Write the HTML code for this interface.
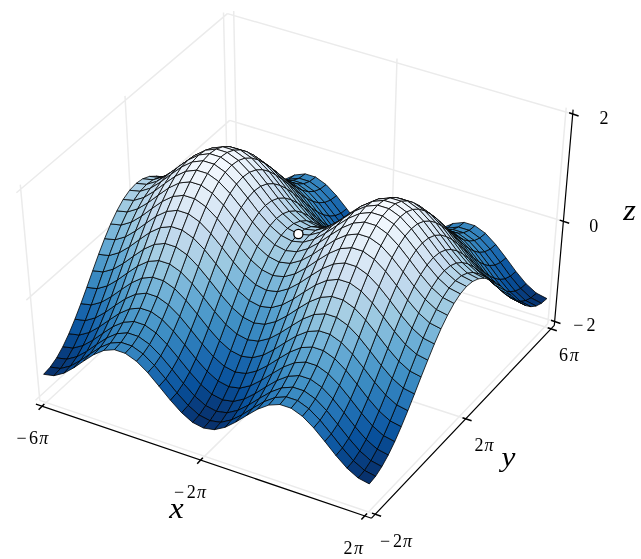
<!DOCTYPE html><html><head><meta charset="utf-8"><title>surface</title><style>html,body{margin:0;padding:0;background:#fff}svg{display:block}</style></head><body><svg width="641" height="559" viewBox="0 0 641 559">
<rect width="641" height="559" fill="#fff"/>
<path d="M42.1 406.2 L238.0 226.2 M238.0 226.2 L233.7 11.0 M200.6 460.1 L390.4 274.0 M390.4 274.0 L397.0 58.5 M364.8 515.9 L547.9 323.4 M547.9 323.4 L566.2 107.6 M39.8 400.4 L375.2 514.2 M39.8 400.4 L20.3 184.6 M136.8 311.5 L465.7 418.8 M136.8 311.5 L125.0 95.9 M228.4 227.6 L551.0 328.8 M228.4 227.6 L223.5 12.4 M35.5 400.3 L231.9 220.5 M231.9 220.5 L554.6 321.5 M26.3 300.1 L229.7 120.4 M229.7 120.4 L563.3 221.3 M16.4 192.7 L227.4 13.6 M227.4 13.6 L572.7 114.0" fill="none" stroke="#ebebeb" stroke-width="1.5"/>
<g stroke="#000" stroke-width="0.8" stroke-linejoin="round">
<polygon points="227.8,205.6 237.9,206.6 243.9,202.2 233.8,201.2" fill="#08326e"/>
<polygon points="237.9,206.6 247.9,203.7 253.9,199.3 243.9,202.2" fill="#083979"/>
<polygon points="221.7,207.9 231.8,208.9 237.9,206.6 227.8,205.6" fill="#083674"/>
<polygon points="231.8,208.9 241.9,206.0 247.9,203.7 237.9,206.6" fill="#083d7f"/>
<polygon points="215.5,208.2 225.6,209.2 231.8,208.9 221.7,207.9" fill="#083d7f"/>
<polygon points="247.9,203.7 258.0,198.0 264.0,193.6 253.9,199.3" fill="#08478d"/>
<polygon points="225.6,209.2 235.7,206.4 241.9,206.0 231.8,208.9" fill="#08458a"/>
<polygon points="241.9,206.0 251.9,200.3 258.0,198.0 247.9,203.7" fill="#084b93"/>
<polygon points="209.2,206.8 219.4,207.8 225.6,209.2 215.5,208.2" fill="#084990"/>
<polygon points="258.0,198.0 268.2,190.8 274.2,186.4 264.0,193.6" fill="#0e58a2"/>
<polygon points="235.7,206.4 245.8,200.6 251.9,200.3 241.9,206.0" fill="#09529d"/>
<polygon points="219.4,207.8 229.5,204.9 235.7,206.4 225.6,209.2" fill="#08509b"/>
<polygon points="251.9,200.3 262.1,193.1 268.2,190.8 258.0,198.0" fill="#105ba4"/>
<polygon points="202.8,203.9 213.0,204.9 219.4,207.8 209.2,206.8" fill="#0c56a0"/>
<polygon points="268.2,190.8 278.4,184.0 284.4,179.6 274.2,186.4" fill="#1b69af"/>
<polygon points="371.6,248.3 382.0,253.7 387.8,249.1 377.4,243.7" fill="#08326e"/>
<polygon points="361.3,239.0 371.6,248.3 377.4,243.7 367.2,234.4" fill="#083979"/>
<polygon points="229.5,204.9 239.6,199.1 245.8,200.6 235.7,206.4" fill="#125da6"/>
<polygon points="245.8,200.6 256.0,193.4 262.1,193.1 251.9,200.3" fill="#1663aa"/>
<polygon points="382.0,253.7 392.6,254.8 398.3,250.2 387.8,249.1" fill="#08326e"/>
<polygon points="213.0,204.9 223.2,202.0 229.5,204.9 219.4,207.8" fill="#125da6"/>
<polygon points="351.1,226.8 361.3,239.0 367.2,234.4 356.9,222.3" fill="#08478d"/>
<polygon points="262.1,193.1 272.3,186.3 278.4,184.0 268.2,190.8" fill="#1e6db2"/>
<polygon points="365.9,250.7 376.3,256.1 382.0,253.7 371.6,248.3" fill="#083674"/>
<polygon points="355.5,241.4 365.9,250.7 371.6,248.3 361.3,239.0" fill="#083d7f"/>
<polygon points="278.4,184.0 288.7,179.4 294.7,175.0 284.4,179.6" fill="#2979b9"/>
<polygon points="392.6,254.8 403.3,252.0 409.0,247.4 398.3,250.2" fill="#083979"/>
<polygon points="340.8,213.2 351.1,226.8 356.9,222.3 346.7,208.7" fill="#0e58a2"/>
<polygon points="196.4,199.8 206.6,200.9 213.0,204.9 202.8,203.9" fill="#1865ac"/>
<polygon points="376.3,256.1 386.8,257.3 392.6,254.8 382.0,253.7" fill="#083674"/>
<polygon points="345.2,229.2 355.5,241.4 361.3,239.0 351.1,226.8" fill="#084b93"/>
<polygon points="239.6,199.1 249.8,191.8 256.0,193.4 245.8,200.6" fill="#1e6db2"/>
<polygon points="223.2,202.0 233.3,196.1 239.6,199.1 229.5,204.9" fill="#1c6ab0"/>
<polygon points="256.0,193.4 266.2,186.5 272.3,186.3 262.1,193.1" fill="#2474b7"/>
<polygon points="272.3,186.3 282.7,181.7 288.7,179.4 278.4,184.0" fill="#2d7dbb"/>
<polygon points="330.4,200.0 340.8,213.2 346.7,208.7 336.4,195.6" fill="#1b69af"/>
<polygon points="360.1,251.2 370.5,256.6 376.3,256.1 365.9,250.7" fill="#083d7f"/>
<polygon points="206.6,200.9 216.7,197.9 223.2,202.0 213.0,204.9" fill="#1d6cb1"/>
<polygon points="349.7,241.9 360.1,251.2 365.9,250.7 355.5,241.4" fill="#08458a"/>
<polygon points="386.8,257.3 397.5,254.5 403.3,252.0 392.6,254.8" fill="#083d7f"/>
<polygon points="334.9,215.6 345.2,229.2 351.1,226.8 340.8,213.2" fill="#105ba4"/>
<polygon points="288.7,179.4 299.1,178.3 305.2,173.9 294.7,175.0" fill="#3383be"/>
<polygon points="370.5,256.6 381.1,257.8 386.8,257.3 376.3,256.1" fill="#083d7f"/>
<polygon points="403.3,252.0 414.1,246.3 419.9,241.7 409.0,247.4" fill="#08478d"/>
<polygon points="339.4,229.6 349.7,241.9 355.5,241.4 345.2,229.2" fill="#09529d"/>
<polygon points="320.0,189.0 330.4,200.0 336.4,195.6 326.0,184.5" fill="#2979b9"/>
<polygon points="299.1,178.3 309.6,181.5 315.6,177.1 305.2,173.9" fill="#3787c0"/>
<polygon points="324.5,202.4 334.9,215.6 340.8,213.2 330.4,200.0" fill="#1e6db2"/>
<polygon points="309.6,181.5 320.0,189.0 326.0,184.5 315.6,177.1" fill="#3383be"/>
<polygon points="189.8,195.1 200.1,196.1 206.6,200.9 196.4,199.8" fill="#2676b8"/>
<polygon points="282.7,181.7 293.1,180.5 299.1,178.3 288.7,179.4" fill="#3787c0"/>
<polygon points="249.8,191.8 260.0,185.0 266.2,186.5 256.0,193.4" fill="#2f7fbc"/>
<polygon points="233.3,196.1 243.5,188.8 249.8,191.8 239.6,199.1" fill="#2b7bba"/>
<polygon points="266.2,186.5 276.6,181.9 282.7,181.7 272.3,186.3" fill="#3484bf"/>
<polygon points="381.1,257.8 391.9,255.0 397.5,254.5 386.8,257.3" fill="#08458a"/>
<polygon points="329.0,215.9 339.4,229.6 345.2,229.2 334.9,215.6" fill="#1663aa"/>
<polygon points="216.7,197.9 226.9,192.0 233.3,196.1 223.2,202.0" fill="#2a7ab9"/>
<polygon points="397.5,254.5 408.4,248.8 414.1,246.3 403.3,252.0" fill="#084b93"/>
<polygon points="354.3,249.9 364.8,255.4 370.5,256.6 360.1,251.2" fill="#084990"/>
<polygon points="343.9,240.5 354.3,249.9 360.1,251.2 349.7,241.9" fill="#08509b"/>
<polygon points="314.1,191.3 324.5,202.4 330.4,200.0 320.0,189.0" fill="#2d7dbb"/>
<polygon points="293.1,180.5 303.6,183.8 309.6,181.5 299.1,178.3" fill="#3b8bc2"/>
<polygon points="364.8,255.4 375.4,256.5 381.1,257.8 370.5,256.6" fill="#084990"/>
<polygon points="303.6,183.8 314.1,191.3 320.0,189.0 309.6,181.5" fill="#3787c0"/>
<polygon points="200.1,196.1 210.3,193.1 216.7,197.9 206.6,200.9" fill="#2e7ebc"/>
<polygon points="414.1,246.3 425.2,239.3 430.9,234.7 419.9,241.7" fill="#0e58a2"/>
<polygon points="333.5,228.2 343.9,240.5 349.7,241.9 339.4,229.6" fill="#125da6"/>
<polygon points="318.5,202.7 329.0,215.9 334.9,215.6 324.5,202.4" fill="#2474b7"/>
<polygon points="276.6,181.9 287.0,180.8 293.1,180.5 282.7,181.7" fill="#3e8ec4"/>
<polygon points="391.9,255.0 402.8,249.3 408.4,248.8 397.5,254.5" fill="#09529d"/>
<polygon points="260.0,185.0 270.4,180.3 276.6,181.9 266.2,186.5" fill="#3e8ec4"/>
<polygon points="375.4,256.5 386.2,253.7 391.9,255.0 381.1,257.8" fill="#08509b"/>
<polygon points="323.0,214.5 333.5,228.2 339.4,229.6 329.0,215.9" fill="#1e6db2"/>
<polygon points="243.5,188.8 253.8,181.9 260.0,185.0 249.8,191.8" fill="#3d8dc4"/>
<polygon points="308.1,191.6 318.5,202.7 324.5,202.4 314.1,191.3" fill="#3484bf"/>
<polygon points="226.9,192.0 237.1,184.7 243.5,188.8 233.3,196.1" fill="#3b8bc2"/>
<polygon points="408.4,248.8 419.5,241.7 425.2,239.3 414.1,246.3" fill="#105ba4"/>
<polygon points="287.0,180.8 297.5,184.0 303.6,183.8 293.1,180.5" fill="#4292c6"/>
<polygon points="183.1,190.0 193.4,191.1 200.1,196.1 189.8,195.1" fill="#3989c1"/>
<polygon points="348.5,247.2 359.1,252.7 364.8,255.4 354.3,249.9" fill="#0c56a0"/>
<polygon points="297.5,184.0 308.1,191.6 314.1,191.3 303.6,183.8" fill="#3e8ec4"/>
<polygon points="338.0,237.7 348.5,247.2 354.3,249.9 343.9,240.5" fill="#125da6"/>
<polygon points="210.3,193.1 220.4,187.2 226.9,192.0 216.7,197.9" fill="#3b8bc2"/>
<polygon points="359.1,252.7 369.7,253.8 375.4,256.5 364.8,255.4" fill="#0c56a0"/>
<polygon points="312.6,201.2 323.0,214.5 329.0,215.9 318.5,202.7" fill="#2f7fbc"/>
<polygon points="425.2,239.3 436.3,232.6 442.0,228.0 430.9,234.7" fill="#1b69af"/>
<polygon points="327.6,225.4 338.0,237.7 343.9,240.5 333.5,228.2" fill="#1c6ab0"/>
<polygon points="270.4,180.3 280.9,179.2 287.0,180.8 276.6,181.9" fill="#4b98ca"/>
<polygon points="530.8,297.8 541.4,303.3 546.9,298.6 536.3,293.1" fill="#08326e"/>
<polygon points="193.4,191.1 203.7,188.0 210.3,193.1 200.1,196.1" fill="#4090c5"/>
<polygon points="520.5,288.4 530.8,297.8 536.3,293.1 526.0,283.7" fill="#083979"/>
<polygon points="386.2,253.7 397.1,248.0 402.8,249.3 391.9,255.0" fill="#125da6"/>
<polygon points="402.8,249.3 413.8,242.2 419.5,241.7 408.4,248.8" fill="#1663aa"/>
<polygon points="302.0,190.0 312.6,201.2 318.5,202.7 308.1,191.6" fill="#3e8ec4"/>
<polygon points="253.8,181.9 264.2,177.2 270.4,180.3 260.0,185.0" fill="#4f9bcb"/>
<polygon points="369.7,253.8 380.5,251.0 386.2,253.7 375.4,256.5" fill="#125da6"/>
<polygon points="280.9,179.2 291.4,182.4 297.5,184.0 287.0,180.8" fill="#4f9bcb"/>
<polygon points="317.1,211.6 327.6,225.4 333.5,228.2 323.0,214.5" fill="#2b7bba"/>
<polygon points="510.3,276.1 520.5,288.4 526.0,283.7 515.9,271.4" fill="#08478d"/>
<polygon points="291.4,182.4 302.0,190.0 308.1,191.6 297.5,184.0" fill="#4b98ca"/>
<polygon points="237.1,184.7 247.4,177.7 253.8,181.9 243.5,188.8" fill="#4f9bcb"/>
<polygon points="419.5,241.7 430.6,235.0 436.3,232.6 425.2,239.3" fill="#1e6db2"/>
<polygon points="342.7,243.3 353.3,248.8 359.1,252.7 348.5,247.2" fill="#1865ac"/>
<polygon points="525.4,300.5 536.1,306.0 541.4,303.3 530.8,297.8" fill="#083674"/>
<polygon points="220.4,187.2 230.7,179.7 237.1,184.7 226.9,192.0" fill="#4e9acb"/>
<polygon points="332.1,233.8 342.7,243.3 348.5,247.2 338.0,237.7" fill="#1d6cb1"/>
<polygon points="515.1,291.0 525.4,300.5 530.8,297.8 520.5,288.4" fill="#083d7f"/>
<polygon points="176.4,185.2 186.8,186.2 193.4,191.1 183.1,190.0" fill="#4d99ca"/>
<polygon points="436.3,232.6 447.4,228.1 453.1,223.5 442.0,228.0" fill="#2979b9"/>
<polygon points="306.5,198.2 317.1,211.6 323.0,214.5 312.6,201.2" fill="#3d8dc4"/>
<polygon points="203.7,188.0 213.9,182.0 220.4,187.2 210.3,193.1" fill="#519ccc"/>
<polygon points="500.3,262.4 510.3,276.1 515.9,271.4 505.9,257.8" fill="#0e58a2"/>
<polygon points="353.3,248.8 364.0,249.9 369.7,253.8 359.1,252.7" fill="#1865ac"/>
<polygon points="264.2,177.2 274.7,176.1 280.9,179.2 270.4,180.3" fill="#5ca4d0"/>
<polygon points="321.6,221.4 332.1,233.8 338.0,237.7 327.6,225.4" fill="#2a7ab9"/>
<polygon points="504.9,278.7 515.1,291.0 520.5,288.4 510.3,276.1" fill="#084b93"/>
<polygon points="397.1,248.0 408.2,240.9 413.8,242.2 402.8,249.3" fill="#1e6db2"/>
<polygon points="380.5,251.0 391.5,245.2 397.1,248.0 386.2,253.7" fill="#1c6ab0"/>
<polygon points="413.8,242.2 425.0,235.5 430.6,235.0 419.5,241.7" fill="#2474b7"/>
<polygon points="186.8,186.2 197.0,183.1 203.7,188.0 193.4,191.1" fill="#56a0ce"/>
<polygon points="295.9,187.0 306.5,198.2 312.6,201.2 302.0,190.0" fill="#4f9bcb"/>
<polygon points="274.7,176.1 285.3,179.3 291.4,182.4 280.9,179.2" fill="#60a7d2"/>
<polygon points="247.4,177.7 257.9,173.0 264.2,177.2 253.8,181.9" fill="#63a8d3"/>
<polygon points="430.6,235.0 441.7,230.5 447.4,228.1 436.3,232.6" fill="#2d7dbb"/>
<polygon points="490.1,249.1 500.3,262.4 505.9,257.8 495.7,244.5" fill="#1b69af"/>
<polygon points="520.2,301.2 530.9,306.7 536.1,306.0 525.4,300.5" fill="#083d7f"/>
<polygon points="364.0,249.9 374.8,247.1 380.5,251.0 369.7,253.8" fill="#1d6cb1"/>
<polygon points="509.8,291.7 520.2,301.2 525.4,300.5 515.1,291.0" fill="#08458a"/>
<polygon points="285.3,179.3 295.9,187.0 302.0,190.0 291.4,182.4" fill="#5ca4d0"/>
<polygon points="311.0,207.5 321.6,221.4 327.6,225.4 317.1,211.6" fill="#3b8bc2"/>
<polygon points="494.8,265.0 504.9,278.7 510.3,276.1 500.3,262.4" fill="#105ba4"/>
<polygon points="447.4,228.1 458.4,227.1 464.1,222.4 453.1,223.5" fill="#3383be"/>
<polygon points="230.7,179.7 241.0,172.7 247.4,177.7 237.1,184.7" fill="#65aad4"/>
<polygon points="499.5,279.3 509.8,291.7 515.1,291.0 504.9,278.7" fill="#09529d"/>
<polygon points="479.7,238.0 490.1,249.1 495.7,244.5 485.4,233.3" fill="#2979b9"/>
<polygon points="336.8,238.7 347.4,244.2 353.3,248.8 342.7,243.3" fill="#2676b8"/>
<polygon points="213.9,182.0 224.2,174.5 230.7,179.7 220.4,187.2" fill="#65aad4"/>
<polygon points="326.2,229.2 336.8,238.7 342.7,243.3 332.1,233.8" fill="#2e7ebc"/>
<polygon points="169.7,181.0 180.1,182.0 186.8,186.2 176.4,185.2" fill="#63a8d3"/>
<polygon points="458.4,227.1 469.2,230.4 474.9,225.7 464.1,222.4" fill="#3787c0"/>
<polygon points="300.4,194.0 311.0,207.5 317.1,211.6 306.5,198.2" fill="#4f9bcb"/>
<polygon points="484.5,251.7 494.8,265.0 500.3,262.4 490.1,249.1" fill="#1e6db2"/>
<polygon points="469.2,230.4 479.7,238.0 485.4,233.3 474.9,225.7" fill="#3383be"/>
<polygon points="347.4,244.2 358.2,245.4 364.0,249.9 353.3,248.8" fill="#2676b8"/>
<polygon points="257.9,173.0 268.4,171.8 274.7,176.1 264.2,177.2" fill="#71b1d7"/>
<polygon points="197.0,183.1 207.3,177.1 213.9,182.0 203.7,188.0" fill="#66abd4"/>
<polygon points="441.7,230.5 452.7,229.5 458.4,227.1 447.4,228.1" fill="#3787c0"/>
<polygon points="408.2,240.9 419.4,234.1 425.0,235.5 413.8,242.2" fill="#2f7fbc"/>
<polygon points="391.5,245.2 402.6,238.0 408.2,240.9 397.1,248.0" fill="#2b7bba"/>
<polygon points="425.0,235.5 436.1,230.9 441.7,230.5 430.6,235.0" fill="#3484bf"/>
<polygon points="315.6,216.6 326.2,229.2 332.1,233.8 321.6,221.4" fill="#3b8bc2"/>
<polygon points="489.3,265.5 499.5,279.3 504.9,278.7 494.8,265.0" fill="#1663aa"/>
<polygon points="374.8,247.1 385.8,241.3 391.5,245.2 380.5,251.0" fill="#2a7ab9"/>
<polygon points="515.0,300.1 525.7,305.6 530.9,306.7 520.2,301.2" fill="#084990"/>
<polygon points="504.5,290.6 515.0,300.1 520.2,301.2 509.8,291.7" fill="#08509b"/>
<polygon points="289.7,182.7 300.4,194.0 306.5,198.2 295.9,187.0" fill="#63a8d3"/>
<polygon points="474.2,240.5 484.5,251.7 490.1,249.1 479.7,238.0" fill="#2d7dbb"/>
<polygon points="180.1,182.0 190.4,178.9 197.0,183.1 186.8,186.2" fill="#6caed6"/>
<polygon points="268.4,171.8 279.1,175.1 285.3,179.3 274.7,176.1" fill="#77b5d9"/>
<polygon points="452.7,229.5 463.6,232.8 469.2,230.4 458.4,227.1" fill="#3b8bc2"/>
<polygon points="241.0,172.7 251.5,167.9 257.9,173.0 247.4,177.7" fill="#7cb7da"/>
<polygon points="279.1,175.1 289.7,182.7 295.9,187.0 285.3,179.3" fill="#71b1d7"/>
<polygon points="463.6,232.8 474.2,240.5 479.7,238.0 469.2,230.4" fill="#3787c0"/>
<polygon points="358.2,245.4 369.1,242.5 374.8,247.1 364.0,249.9" fill="#2e7ebc"/>
<polygon points="304.9,202.7 315.6,216.6 321.6,221.4 311.0,207.5" fill="#4e9acb"/>
<polygon points="494.2,278.1 504.5,290.6 509.8,291.7 499.5,279.3" fill="#125da6"/>
<polygon points="479.1,252.2 489.3,265.5 494.8,265.0 484.5,251.7" fill="#2474b7"/>
<polygon points="436.1,230.9 447.1,229.9 452.7,229.5 441.7,230.5" fill="#3e8ec4"/>
<polygon points="224.2,174.5 234.5,167.5 241.0,172.7 230.7,179.7" fill="#7fb9da"/>
<polygon points="162.9,177.8 173.3,178.9 180.1,182.0 169.7,181.0" fill="#7ab6d9"/>
<polygon points="330.8,233.8 341.6,239.4 347.4,244.2 336.8,238.7" fill="#3989c1"/>
<polygon points="419.4,234.1 430.5,229.5 436.1,230.9 425.0,235.5" fill="#3e8ec4"/>
<polygon points="207.3,177.1 217.6,169.5 224.2,174.5 213.9,182.0" fill="#81badb"/>
<polygon points="320.2,224.2 330.8,233.8 336.8,238.7 326.2,229.2" fill="#4090c5"/>
<polygon points="484.0,264.3 494.2,278.1 499.5,279.3 489.3,265.5" fill="#1e6db2"/>
<polygon points="402.6,238.0 413.8,231.2 419.4,234.1 408.2,240.9" fill="#3d8dc4"/>
<polygon points="468.7,240.9 479.1,252.2 484.5,251.7 474.2,240.5" fill="#3484bf"/>
<polygon points="294.2,189.1 304.9,202.7 311.0,207.5 300.4,194.0" fill="#65aad4"/>
<polygon points="385.8,241.3 396.9,234.0 402.6,238.0 391.5,245.2" fill="#3b8bc2"/>
<polygon points="447.1,229.9 458.0,233.3 463.6,232.8 452.7,229.5" fill="#4292c6"/>
<polygon points="251.5,167.9 262.1,166.8 268.4,171.8 257.9,173.0" fill="#8cc0dd"/>
<polygon points="190.4,178.9 200.6,172.8 207.3,177.1 197.0,183.1" fill="#81badb"/>
<polygon points="341.6,239.4 352.3,240.5 358.2,245.4 347.4,244.2" fill="#3989c1"/>
<polygon points="509.9,297.5 520.6,303.1 525.7,305.6 515.0,300.1" fill="#0c56a0"/>
<polygon points="458.0,233.3 468.7,240.9 474.2,240.5 463.6,232.8" fill="#3e8ec4"/>
<polygon points="499.3,288.0 509.9,297.5 515.0,300.1 504.5,290.6" fill="#125da6"/>
<polygon points="309.5,211.6 320.2,224.2 326.2,229.2 315.6,216.6" fill="#519ccc"/>
<polygon points="369.1,242.5 380.1,236.6 385.8,241.3 374.8,247.1" fill="#3b8bc2"/>
<polygon points="173.3,178.9 183.6,175.7 190.4,178.9 180.1,182.0" fill="#85bcdc"/>
<polygon points="283.5,177.8 294.2,189.1 300.4,194.0 289.7,182.7" fill="#7cb7da"/>
<polygon points="473.7,250.9 484.0,264.3 489.3,265.5 479.1,252.2" fill="#2f7fbc"/>
<polygon points="262.1,166.8 272.8,170.1 279.1,175.1 268.4,171.8" fill="#92c4de"/>
<polygon points="489.0,275.5 499.3,288.0 504.5,290.6 494.2,278.1" fill="#1c6ab0"/>
<polygon points="430.5,229.5 441.6,228.5 447.1,229.9 436.1,230.9" fill="#4b98ca"/>
<polygon points="272.8,170.1 283.5,177.8 289.7,182.7 279.1,175.1" fill="#8cc0dd"/>
<polygon points="234.5,167.5 245.0,162.6 251.5,167.9 241.0,172.7" fill="#97c6df"/>
<polygon points="352.3,240.5 363.3,237.6 369.1,242.5 358.2,245.4" fill="#4090c5"/>
<polygon points="298.8,197.6 309.5,211.6 315.6,216.6 304.9,202.7" fill="#65aad4"/>
<polygon points="156.1,176.2 166.6,177.2 173.3,178.9 162.9,177.8" fill="#8fc2de"/>
<polygon points="463.2,239.6 473.7,250.9 479.1,252.2 468.7,240.9" fill="#3e8ec4"/>
<polygon points="413.8,231.2 425.0,226.6 430.5,229.5 419.4,234.1" fill="#4f9bcb"/>
<polygon points="217.6,169.5 228.0,162.4 234.5,167.5 224.2,174.5" fill="#9cc9e1"/>
<polygon points="441.6,228.5 452.5,231.9 458.0,233.3 447.1,229.9" fill="#4f9bcb"/>
<polygon points="478.7,261.6 489.0,275.5 494.2,278.1 484.0,264.3" fill="#2b7bba"/>
<polygon points="324.8,229.1 335.6,234.7 341.6,239.4 330.8,233.8" fill="#4d99ca"/>
<polygon points="452.5,231.9 463.2,239.6 468.7,240.9 458.0,233.3" fill="#4b98ca"/>
<polygon points="200.6,172.8 210.9,165.2 217.6,169.5 207.3,177.1" fill="#9cc9e1"/>
<polygon points="396.9,234.0 408.2,227.2 413.8,231.2 402.6,238.0" fill="#4f9bcb"/>
<polygon points="314.1,219.5 324.8,229.1 330.8,233.8 320.2,224.2" fill="#56a0ce"/>
<polygon points="288.0,183.9 298.8,197.6 304.9,202.7 294.2,189.1" fill="#7fb9da"/>
<polygon points="183.6,175.7 193.9,169.6 200.6,172.8 190.4,178.9" fill="#9ac8e0"/>
<polygon points="504.8,293.8 515.6,299.5 520.6,303.1 509.9,297.5" fill="#1865ac"/>
<polygon points="380.1,236.6 391.3,229.3 396.9,234.0 385.8,241.3" fill="#4e9acb"/>
<polygon points="245.0,162.6 255.7,161.5 262.1,166.8 251.5,167.9" fill="#a6cee4"/>
<polygon points="494.2,284.2 504.8,293.8 509.9,297.5 499.3,288.0" fill="#1d6cb1"/>
<polygon points="335.6,234.7 346.4,235.8 352.3,240.5 341.6,239.4" fill="#4d99ca"/>
<polygon points="166.6,177.2 176.9,174.1 183.6,175.7 173.3,178.9" fill="#9ac8e0"/>
<polygon points="303.3,206.8 314.1,219.5 320.2,224.2 309.5,211.6" fill="#66abd4"/>
<polygon points="468.3,248.0 478.7,261.6 484.0,264.3 473.7,250.9" fill="#3d8dc4"/>
<polygon points="363.3,237.6 374.3,231.7 380.1,236.6 369.1,242.5" fill="#519ccc"/>
<polygon points="425.0,226.6 436.1,225.6 441.6,228.5 430.5,229.5" fill="#5ca4d0"/>
<polygon points="277.2,172.5 288.0,183.9 294.2,189.1 283.5,177.8" fill="#97c6df"/>
<polygon points="483.8,271.7 494.2,284.2 499.3,288.0 489.0,275.5" fill="#2a7ab9"/>
<polygon points="255.7,161.5 266.4,164.7 272.8,170.1 262.1,166.8" fill="#aacfe5"/>
<polygon points="149.4,176.4 159.9,177.5 166.6,177.2 156.1,176.2" fill="#9fcae1"/>
<polygon points="266.4,164.7 277.2,172.5 283.5,177.8 272.8,170.1" fill="#a6cee4"/>
<polygon points="228.0,162.4 238.5,157.5 245.0,162.6 234.5,167.5" fill="#afd1e7"/>
<polygon points="56.6,357.9 66.9,359.2 73.2,348.0 62.8,346.7" fill="#083d7f"/>
<polygon points="62.8,346.7 73.2,348.0 79.3,335.0 68.9,333.7" fill="#084990"/>
<polygon points="346.4,235.8 357.4,232.9 363.3,237.6 352.3,240.5" fill="#56a0ce"/>
<polygon points="457.8,236.7 468.3,248.0 473.7,250.9 463.2,239.6" fill="#4f9bcb"/>
<polygon points="292.6,192.6 303.3,206.8 309.5,211.6 298.8,197.6" fill="#81badb"/>
<polygon points="50.2,367.1 60.5,368.5 66.9,359.2 56.6,357.9" fill="#083674"/>
<polygon points="436.1,225.6 447.0,229.0 452.5,231.9 441.6,228.5" fill="#60a7d2"/>
<polygon points="408.2,227.2 419.4,222.5 425.0,226.6 413.8,231.2" fill="#63a8d3"/>
<polygon points="68.9,333.7 79.3,335.0 85.3,320.5 74.9,319.2" fill="#0c56a0"/>
<polygon points="210.9,165.2 221.4,158.0 228.0,162.4 217.6,169.5" fill="#b2d2e8"/>
<polygon points="447.0,229.0 457.8,236.7 463.2,239.6 452.5,231.9" fill="#5ca4d0"/>
<polygon points="473.4,257.7 483.8,271.7 489.0,275.5 478.7,261.6" fill="#3b8bc2"/>
<polygon points="193.9,169.6 204.3,161.9 210.9,165.2 200.6,172.8" fill="#afd1e7"/>
<polygon points="176.9,174.1 187.2,167.9 193.9,169.6 183.6,175.7" fill="#abd0e6"/>
<polygon points="43.6,374.3 53.9,375.7 60.5,368.5 50.2,367.1" fill="#08326e"/>
<polygon points="74.9,319.2 85.3,320.5 91.3,304.9 80.9,303.6" fill="#1865ac"/>
<polygon points="318.7,225.1 329.6,230.7 335.6,234.7 324.8,229.1" fill="#63a8d3"/>
<polygon points="391.3,229.3 402.5,222.4 408.2,227.2 396.9,234.0" fill="#65aad4"/>
<polygon points="159.9,177.5 170.2,174.3 176.9,174.1 166.6,177.2" fill="#a8cee4"/>
<polygon points="307.9,215.3 318.7,225.1 324.8,229.1 314.1,219.5" fill="#6caed6"/>
<polygon points="66.9,359.2 77.0,356.7 83.2,345.4 73.2,348.0" fill="#08458a"/>
<polygon points="281.7,178.9 292.6,192.6 298.8,197.6 288.0,183.9" fill="#9cc9e1"/>
<polygon points="499.7,289.4 510.6,295.1 515.6,299.5 504.8,293.8" fill="#2676b8"/>
<polygon points="73.2,348.0 83.2,345.4 89.4,332.4 79.3,335.0" fill="#08509b"/>
<polygon points="374.3,231.7 385.5,224.3 391.3,229.3 380.1,236.6" fill="#65aad4"/>
<polygon points="489.0,279.8 499.7,289.4 504.8,293.8 494.2,284.2" fill="#2e7ebc"/>
<polygon points="142.7,178.8 153.2,179.8 159.9,177.5 149.4,176.4" fill="#a8cee4"/>
<polygon points="329.6,230.7 340.4,231.8 346.4,235.8 335.6,234.7" fill="#63a8d3"/>
<polygon points="238.5,157.5 249.2,156.3 255.7,161.5 245.0,162.6" fill="#bcd7eb"/>
<polygon points="60.5,368.5 70.5,366.0 77.0,356.7 66.9,359.2" fill="#083d7f"/>
<polygon points="80.9,303.6 91.3,304.9 97.2,288.6 86.8,287.3" fill="#2676b8"/>
<polygon points="79.3,335.0 89.4,332.4 95.4,317.8 85.3,320.5" fill="#125da6"/>
<polygon points="463.0,244.1 473.4,257.7 478.7,261.6 468.3,248.0" fill="#4f9bcb"/>
<polygon points="297.1,202.6 307.9,215.3 314.1,219.5 303.3,206.8" fill="#81badb"/>
<polygon points="419.4,222.5 430.6,221.5 436.1,225.6 425.0,226.6" fill="#71b1d7"/>
<polygon points="357.4,232.9 368.5,226.9 374.3,231.7 363.3,237.6" fill="#66abd4"/>
<polygon points="478.6,267.1 489.0,279.8 494.2,284.2 483.8,271.7" fill="#3b8bc2"/>
<polygon points="53.9,375.7 63.9,373.2 70.5,366.0 60.5,368.5" fill="#083979"/>
<polygon points="85.3,320.5 95.4,317.8 101.4,302.2 91.3,304.9" fill="#1d6cb1"/>
<polygon points="270.8,167.4 281.7,178.9 288.0,183.9 277.2,172.5" fill="#afd1e7"/>
<polygon points="86.8,287.3 97.2,288.6 103.1,271.9 92.7,270.7" fill="#3989c1"/>
<polygon points="249.2,156.3 260.0,159.6 266.4,164.7 255.7,161.5" fill="#c1d9ed"/>
<polygon points="221.4,158.0 231.9,153.1 238.5,157.5 228.0,162.4" fill="#c4daee"/>
<polygon points="452.4,232.7 463.0,244.1 468.3,248.0 457.8,236.7" fill="#63a8d3"/>
<polygon points="260.0,159.6 270.8,167.4 277.2,172.5 266.4,164.7" fill="#bcd7eb"/>
<polygon points="153.2,179.8 163.6,176.7 170.2,174.3 159.9,177.5" fill="#b0d2e7"/>
<polygon points="340.4,231.8 351.4,228.8 357.4,232.9 346.4,235.8" fill="#6caed6"/>
<polygon points="286.3,188.4 297.1,202.6 303.3,206.8 292.6,192.6" fill="#9cc9e1"/>
<polygon points="136.1,183.4 146.6,184.4 153.2,179.8 142.7,178.8" fill="#add0e6"/>
<polygon points="430.6,221.5 441.6,224.9 447.0,229.0 436.1,225.6" fill="#77b5d9"/>
<polygon points="91.3,304.9 101.4,302.2 107.4,285.8 97.2,288.6" fill="#2e7ebc"/>
<polygon points="170.2,174.3 180.6,168.1 187.2,167.9 176.9,174.1" fill="#b8d5ea"/>
<polygon points="402.5,222.4 413.8,217.7 419.4,222.5 408.2,227.2" fill="#7cb7da"/>
<polygon points="204.3,161.9 214.7,154.7 221.4,158.0 210.9,165.2" fill="#c4daee"/>
<polygon points="441.6,224.9 452.4,232.7 457.8,236.7 447.0,229.0" fill="#71b1d7"/>
<polygon points="187.2,167.9 197.6,160.2 204.3,161.9 193.9,169.6" fill="#bfd8ed"/>
<polygon points="92.7,270.7 103.1,271.9 109.1,255.5 98.6,254.3" fill="#4d99ca"/>
<polygon points="77.0,356.7 86.9,351.3 93.2,339.9 83.2,345.4" fill="#09529d"/>
<polygon points="83.2,345.4 93.2,339.9 99.3,326.8 89.4,332.4" fill="#125da6"/>
<polygon points="468.1,253.0 478.6,267.1 483.8,271.7 473.4,257.7" fill="#4e9acb"/>
<polygon points="70.5,366.0 80.4,360.6 86.9,351.3 77.0,356.7" fill="#084b93"/>
<polygon points="312.6,222.1 323.4,227.7 329.6,230.7 318.7,225.1" fill="#7ab6d9"/>
<polygon points="89.4,332.4 99.3,326.8 105.4,312.2 95.4,317.8" fill="#1c6ab0"/>
<polygon points="301.7,212.3 312.6,222.1 318.7,225.1 307.9,215.3" fill="#85bcdc"/>
<polygon points="97.2,288.6 107.4,285.8 113.3,269.1 103.1,271.9" fill="#4090c5"/>
<polygon points="385.5,224.3 396.8,217.3 402.5,222.4 391.3,229.3" fill="#7fb9da"/>
<polygon points="98.6,254.3 109.1,255.5 115.1,239.7 104.6,238.6" fill="#63a8d3"/>
<polygon points="129.6,190.3 140.1,191.3 146.6,184.4 136.1,183.4" fill="#add0e6"/>
<polygon points="275.3,174.5 286.3,188.4 292.6,192.6 281.7,178.9" fill="#b2d2e8"/>
<polygon points="323.4,227.7 334.4,228.9 340.4,231.8 329.6,230.7" fill="#7ab6d9"/>
<polygon points="63.9,373.2 73.8,367.8 80.4,360.6 70.5,366.0" fill="#08478d"/>
<polygon points="95.4,317.8 105.4,312.2 111.4,296.5 101.4,302.2" fill="#2a7ab9"/>
<polygon points="494.5,284.7 505.5,290.4 510.6,295.1 499.7,289.4" fill="#3989c1"/>
<polygon points="146.6,184.4 157.0,181.3 163.6,176.7 153.2,179.8" fill="#b5d4e9"/>
<polygon points="368.5,226.9 379.7,219.5 385.5,224.3 374.3,231.7" fill="#81badb"/>
<polygon points="231.9,153.1 242.7,151.8 249.2,156.3 238.5,157.5" fill="#cddff1"/>
<polygon points="483.8,275.0 494.5,284.7 499.7,289.4 489.0,279.8" fill="#4090c5"/>
<polygon points="290.8,199.5 301.7,212.3 307.9,215.3 297.1,202.6" fill="#9ac8e0"/>
<polygon points="104.6,238.6 115.1,239.7 121.2,225.0 110.7,223.9" fill="#7ab6d9"/>
<polygon points="457.6,239.4 468.1,253.0 473.4,257.7 463.0,244.1" fill="#65aad4"/>
<polygon points="103.1,271.9 113.3,269.1 119.3,252.6 109.1,255.5" fill="#56a0ce"/>
<polygon points="123.1,199.5 133.7,200.5 140.1,191.3 129.6,190.3" fill="#a8cee4"/>
<polygon points="163.6,176.7 173.9,170.4 180.6,168.1 170.2,174.3" fill="#c1d9ed"/>
<polygon points="413.8,217.7 425.0,216.7 430.6,221.5 419.4,222.5" fill="#8cc0dd"/>
<polygon points="351.4,228.8 362.6,222.8 368.5,226.9 357.4,232.9" fill="#81badb"/>
<polygon points="110.7,223.9 121.2,225.0 127.4,211.9 116.9,210.8" fill="#8fc2de"/>
<polygon points="116.9,210.8 127.4,211.9 133.7,200.5 123.1,199.5" fill="#9fcae1"/>
<polygon points="101.4,302.2 111.4,296.5 117.4,280.0 107.4,285.8" fill="#3b8bc2"/>
<polygon points="264.4,163.0 275.3,174.5 281.7,178.9 270.8,167.4" fill="#c4daee"/>
<polygon points="473.3,262.3 483.8,275.0 489.0,279.8 478.6,267.1" fill="#519ccc"/>
<polygon points="109.1,255.5 119.3,252.6 125.4,236.8 115.1,239.7" fill="#6caed6"/>
<polygon points="140.1,191.3 150.5,188.2 157.0,181.3 146.6,184.4" fill="#b5d4e9"/>
<polygon points="180.6,168.1 190.9,160.4 197.6,160.2 187.2,167.9" fill="#cadef0"/>
<polygon points="242.7,151.8 253.5,155.1 260.0,159.6 249.2,156.3" fill="#d0e1f2"/>
<polygon points="214.7,154.7 225.3,149.7 231.9,153.1 221.4,158.0" fill="#d0e2f2"/>
<polygon points="334.4,228.9 345.4,225.9 351.4,228.8 340.4,231.8" fill="#85bcdc"/>
<polygon points="446.9,227.9 457.6,239.4 463.0,244.1 452.4,232.7" fill="#7cb7da"/>
<polygon points="253.5,155.1 264.4,163.0 270.8,167.4 260.0,159.6" fill="#cddff1"/>
<polygon points="279.9,185.2 290.8,199.5 297.1,202.6 286.3,188.4" fill="#afd1e7"/>
<polygon points="86.9,351.3 96.8,344.4 103.1,333.0 93.2,339.9" fill="#1663aa"/>
<polygon points="197.6,160.2 208.1,152.9 214.7,154.7 204.3,161.9" fill="#cfe1f2"/>
<polygon points="93.2,339.9 103.1,333.0 109.3,319.9 99.3,326.8" fill="#1e6db2"/>
<polygon points="107.4,285.8 117.4,280.0 123.4,263.3 113.3,269.1" fill="#519ccc"/>
<polygon points="425.0,216.7 436.1,220.1 441.6,224.9 430.6,221.5" fill="#92c4de"/>
<polygon points="80.4,360.6 90.3,353.8 96.8,344.4 86.9,351.3" fill="#105ba4"/>
<polygon points="115.1,239.7 125.4,236.8 131.5,222.0 121.2,225.0" fill="#85bcdc"/>
<polygon points="99.3,326.8 109.3,319.9 115.4,305.2 105.4,312.2" fill="#2b7bba"/>
<polygon points="133.7,200.5 144.0,197.5 150.5,188.2 140.1,191.3" fill="#b0d2e7"/>
<polygon points="306.3,220.6 317.3,226.3 323.4,227.7 312.6,222.1" fill="#8fc2de"/>
<polygon points="436.1,220.1 446.9,227.9 452.4,232.7 441.6,224.9" fill="#8cc0dd"/>
<polygon points="396.8,217.3 408.1,212.6 413.8,217.7 402.5,222.4" fill="#97c6df"/>
<polygon points="295.4,210.8 306.3,220.6 312.6,222.1 301.7,212.3" fill="#9ac8e0"/>
<polygon points="121.2,225.0 131.5,222.0 137.7,208.8 127.4,211.9" fill="#9ac8e0"/>
<polygon points="157.0,181.3 167.3,175.0 173.9,170.4 163.6,176.7" fill="#c6dbef"/>
<polygon points="462.8,248.1 473.3,262.3 478.6,267.1 468.1,253.0" fill="#65aad4"/>
<polygon points="127.4,211.9 137.7,208.8 144.0,197.5 133.7,200.5" fill="#a8cee4"/>
<polygon points="73.8,367.8 83.6,361.1 90.3,353.8 80.4,360.6" fill="#0e58a2"/>
<polygon points="105.4,312.2 115.4,305.2 121.5,289.4 111.4,296.5" fill="#3b8bc2"/>
<polygon points="113.3,269.1 123.4,263.3 129.5,246.7 119.3,252.6" fill="#66abd4"/>
<polygon points="317.3,226.3 328.2,227.4 334.4,228.9 323.4,227.7" fill="#8fc2de"/>
<polygon points="379.7,219.5 391.1,212.5 396.8,217.3 385.5,224.3" fill="#9cc9e1"/>
<polygon points="268.9,171.3 279.9,185.2 286.3,188.4 275.3,174.5" fill="#c4daee"/>
<polygon points="284.5,197.9 295.4,210.8 301.7,212.3 290.8,199.5" fill="#abd0e6"/>
<polygon points="225.3,149.7 236.1,148.5 242.7,151.8 231.9,153.1" fill="#d9e7f5"/>
<polygon points="173.9,170.4 184.3,162.7 190.9,160.4 180.6,168.1" fill="#d0e1f2"/>
<polygon points="489.3,280.2 500.3,285.9 505.5,290.4 494.5,284.7" fill="#4d99ca"/>
<polygon points="362.6,222.8 373.8,215.3 379.7,219.5 368.5,226.9" fill="#9cc9e1"/>
<polygon points="111.4,296.5 121.5,289.4 127.5,272.8 117.4,280.0" fill="#4e9acb"/>
<polygon points="119.3,252.6 129.5,246.7 135.6,230.8 125.4,236.8" fill="#81badb"/>
<polygon points="478.5,270.5 489.3,280.2 494.5,284.7 483.8,275.0" fill="#56a0ce"/>
<polygon points="150.5,188.2 160.8,182.0 167.3,175.0 157.0,181.3" fill="#c6dbef"/>
<polygon points="452.2,234.4 462.8,248.1 468.1,253.0 457.6,239.4" fill="#7fb9da"/>
<polygon points="345.4,225.9 356.6,219.8 362.6,222.8 351.4,228.8" fill="#9ac8e0"/>
<polygon points="408.1,212.6 419.4,211.5 425.0,216.7 413.8,217.7" fill="#a6cee4"/>
<polygon points="190.9,160.4 201.4,153.1 208.1,152.9 197.6,160.2" fill="#d7e6f5"/>
<polygon points="257.9,159.7 268.9,171.3 275.3,174.5 264.4,163.0" fill="#d0e2f2"/>
<polygon points="208.1,152.9 218.7,147.9 225.3,149.7 214.7,154.7" fill="#dae8f6"/>
<polygon points="125.4,236.8 135.6,230.8 141.7,216.0 131.5,222.0" fill="#9ac8e0"/>
<polygon points="144.0,197.5 154.3,191.3 160.8,182.0 150.5,188.2" fill="#c1d9ed"/>
<polygon points="328.2,227.4 339.3,224.4 345.4,225.9 334.4,228.9" fill="#9ac8e0"/>
<polygon points="96.8,344.4 106.8,338.0 113.1,326.5 103.1,333.0" fill="#2474b7"/>
<polygon points="236.1,148.5 247.0,151.8 253.5,155.1 242.7,151.8" fill="#dbe9f6"/>
<polygon points="273.5,183.6 284.5,197.9 290.8,199.5 279.9,185.2" fill="#bfd8ed"/>
<polygon points="467.9,257.6 478.5,270.5 483.8,275.0 473.3,262.3" fill="#66abd4"/>
<polygon points="103.1,333.0 113.1,326.5 119.4,313.3 109.3,319.9" fill="#2f7fbc"/>
<polygon points="117.4,280.0 127.5,272.8 133.6,256.0 123.4,263.3" fill="#65aad4"/>
<polygon points="300.1,221.0 311.0,226.7 317.3,226.3 306.3,220.6" fill="#9fcae1"/>
<polygon points="131.5,222.0 141.7,216.0 148.0,202.7 137.7,208.8" fill="#abd0e6"/>
<polygon points="137.7,208.8 148.0,202.7 154.3,191.3 144.0,197.5" fill="#b8d5ea"/>
<polygon points="247.0,151.8 257.9,159.7 264.4,163.0 253.5,155.1" fill="#d9e7f5"/>
<polygon points="289.1,211.2 300.1,221.0 306.3,220.6 295.4,210.8" fill="#a8cee4"/>
<polygon points="90.3,353.8 100.3,347.4 106.8,338.0 96.8,344.4" fill="#1e6db2"/>
<polygon points="109.3,319.9 119.4,313.3 125.5,298.6 115.4,305.2" fill="#3d8dc4"/>
<polygon points="205.5,405.5 216.4,411.3 222.7,399.8 211.8,394.1" fill="#083d7f"/>
<polygon points="211.8,394.1 222.7,399.8 229.0,386.6 218.1,380.9" fill="#084990"/>
<polygon points="441.4,222.8 452.2,234.4 457.6,239.4 446.9,227.9" fill="#97c6df"/>
<polygon points="194.5,395.9 205.5,405.5 211.8,394.1 200.8,384.4" fill="#08458a"/>
<polygon points="167.3,175.0 177.7,167.3 184.3,162.7 173.9,170.4" fill="#d3e3f3"/>
<polygon points="200.8,384.4 211.8,394.1 218.1,380.9 207.1,371.2" fill="#08509b"/>
<polygon points="199.1,415.0 210.0,420.7 216.4,411.3 205.5,405.5" fill="#083674"/>
<polygon points="419.4,211.5 430.5,214.9 436.1,220.1 425.0,216.7" fill="#aacfe5"/>
<polygon points="311.0,226.7 322.0,227.9 328.2,227.4 317.3,226.3" fill="#9fcae1"/>
<polygon points="218.1,380.9 229.0,386.6 235.3,372.0 224.3,366.2" fill="#0c56a0"/>
<polygon points="188.1,405.3 199.1,415.0 205.5,405.5 194.5,395.9" fill="#083d7f"/>
<polygon points="123.4,263.3 133.6,256.0 139.7,239.3 129.5,246.7" fill="#81badb"/>
<polygon points="430.5,214.9 441.4,222.8 446.9,227.9 436.1,220.1" fill="#a6cee4"/>
<polygon points="207.1,371.2 218.1,380.9 224.3,366.2 213.3,356.5" fill="#125da6"/>
<polygon points="391.1,212.5 402.4,207.7 408.1,212.6 396.8,217.3" fill="#afd1e7"/>
<polygon points="83.6,361.1 93.6,354.7 100.3,347.4 90.3,353.8" fill="#1b69af"/>
<polygon points="115.4,305.2 125.5,298.6 131.6,282.7 121.5,289.4" fill="#4f9bcb"/>
<polygon points="216.4,411.3 227.2,412.8 233.5,401.3 222.7,399.8" fill="#083d7f"/>
<polygon points="278.1,198.2 289.1,211.2 295.4,210.8 284.5,197.9" fill="#b8d5ea"/>
<polygon points="222.7,399.8 233.5,401.3 239.8,388.1 229.0,386.6" fill="#084990"/>
<polygon points="457.3,243.4 467.9,257.6 473.3,262.3 462.8,248.1" fill="#81badb"/>
<polygon points="262.5,169.6 273.5,183.6 279.9,185.2 268.9,171.3" fill="#cfe1f2"/>
<polygon points="183.3,383.3 194.5,395.9 200.8,384.4 189.7,371.8" fill="#09529d"/>
<polygon points="210.0,420.7 220.8,422.3 227.2,412.8 216.4,411.3" fill="#083674"/>
<polygon points="189.7,371.8 200.8,384.4 207.1,371.2 195.9,358.6" fill="#125da6"/>
<polygon points="192.6,422.4 203.6,428.1 210.0,420.7 199.1,415.0" fill="#08326e"/>
<polygon points="224.3,366.2 235.3,372.0 241.5,356.2 230.6,350.5" fill="#1865ac"/>
<polygon points="229.0,386.6 239.8,388.1 246.1,373.4 235.3,372.0" fill="#0c56a0"/>
<polygon points="218.7,147.9 229.5,146.7 236.1,148.5 225.3,149.7" fill="#e3eef8"/>
<polygon points="181.6,412.7 192.6,422.4 199.1,415.0 188.1,405.3" fill="#083979"/>
<polygon points="213.3,356.5 224.3,366.2 230.6,350.5 219.5,340.7" fill="#1d6cb1"/>
<polygon points="184.3,162.7 194.7,155.4 201.4,153.1 190.9,160.4" fill="#dceaf6"/>
<polygon points="373.8,215.3 385.2,208.2 391.1,212.5 379.7,219.5" fill="#b2d2e8"/>
<polygon points="176.9,392.8 188.1,405.3 194.5,395.9 183.3,383.3" fill="#084b93"/>
<polygon points="129.5,246.7 139.7,239.3 145.8,223.3 135.6,230.8" fill="#9cc9e1"/>
<polygon points="160.8,182.0 171.1,174.3 177.7,167.3 167.3,175.0" fill="#d3e3f3"/>
<polygon points="195.9,358.6 207.1,371.2 213.3,356.5 202.2,343.9" fill="#1c6ab0"/>
<polygon points="121.5,289.4 131.6,282.7 137.7,266.0 127.5,272.8" fill="#65aad4"/>
<polygon points="356.6,219.8 367.9,212.3 373.8,215.3 362.6,222.8" fill="#afd1e7"/>
<polygon points="339.3,224.4 350.5,218.3 356.6,219.8 345.4,225.9" fill="#abd0e6"/>
<polygon points="201.4,153.1 212.0,148.1 218.7,147.9 208.1,152.9" fill="#e3eef8"/>
<polygon points="293.7,223.5 304.7,229.2 311.0,226.7 300.1,221.0" fill="#a8cee4"/>
<polygon points="203.6,428.1 214.4,429.7 220.8,422.3 210.0,420.7" fill="#08326e"/>
<polygon points="235.3,372.0 246.1,373.4 252.4,357.6 241.5,356.2" fill="#1865ac"/>
<polygon points="484.0,276.4 495.1,282.1 500.3,285.9 489.3,280.2" fill="#63a8d3"/>
<polygon points="230.6,350.5 241.5,356.2 247.7,339.7 236.8,333.9" fill="#2676b8"/>
<polygon points="282.7,213.7 293.7,223.5 300.1,221.0 289.1,211.2" fill="#b0d2e7"/>
<polygon points="322.0,227.9 333.1,224.8 339.3,224.4 328.2,227.4" fill="#a8cee4"/>
<polygon points="473.2,266.5 484.0,276.4 489.3,280.2 478.5,270.5" fill="#6caed6"/>
<polygon points="267.1,183.8 278.1,198.2 284.5,197.9 273.5,183.6" fill="#cadef0"/>
<polygon points="135.6,230.8 145.8,223.3 152.0,208.4 141.7,216.0" fill="#afd1e7"/>
<polygon points="106.8,338.0 117.0,333.7 123.4,322.2 113.1,326.5" fill="#3484bf"/>
<polygon points="251.4,157.9 262.5,169.6 268.9,171.3 257.9,159.7" fill="#dae8f6"/>
<polygon points="219.5,340.7 230.6,350.5 236.8,333.9 225.7,324.2" fill="#2e7ebc"/>
<polygon points="170.3,400.1 181.6,412.7 188.1,405.3 176.9,392.8" fill="#08478d"/>
<polygon points="113.1,326.5 123.4,322.2 129.7,308.9 119.4,313.3" fill="#3e8ec4"/>
<polygon points="202.2,343.9 213.3,356.5 219.5,340.7 208.4,328.0" fill="#2a7ab9"/>
<polygon points="154.3,191.3 164.7,183.6 171.1,174.3 160.8,182.0" fill="#d0e1f2"/>
<polygon points="227.2,412.8 238.0,410.3 244.3,398.9 233.5,401.3" fill="#08458a"/>
<polygon points="446.7,229.5 457.3,243.4 462.8,248.1 452.2,234.4" fill="#9cc9e1"/>
<polygon points="233.5,401.3 244.3,398.9 250.6,385.6 239.8,388.1" fill="#08509b"/>
<polygon points="172.0,369.3 183.3,383.3 189.7,371.8 178.4,357.9" fill="#1663aa"/>
<polygon points="229.5,146.7 240.4,150.0 247.0,151.8 236.1,148.5" fill="#e5eff9"/>
<polygon points="178.4,357.9 189.7,371.8 195.9,358.6 184.7,344.6" fill="#1e6db2"/>
<polygon points="100.3,347.4 110.5,343.1 117.0,333.7 106.8,338.0" fill="#2d7dbb"/>
<polygon points="127.5,272.8 137.7,266.0 143.8,249.1 133.6,256.0" fill="#7fb9da"/>
<polygon points="141.7,216.0 152.0,208.4 158.3,195.1 148.0,202.7" fill="#bfd8ed"/>
<polygon points="304.7,229.2 315.7,230.4 322.0,227.9 311.0,226.7" fill="#a8cee4"/>
<polygon points="148.0,202.7 158.3,195.1 164.7,183.6 154.3,191.3" fill="#cadef0"/>
<polygon points="119.4,313.3 129.7,308.9 135.9,294.1 125.5,298.6" fill="#4f9bcb"/>
<polygon points="402.4,207.7 413.7,206.6 419.4,211.5 408.1,212.6" fill="#bcd7eb"/>
<polygon points="220.8,422.3 231.6,419.9 238.0,410.3 227.2,412.8" fill="#083d7f"/>
<polygon points="240.4,150.0 251.4,157.9 257.9,159.7 247.0,151.8" fill="#e3eef8"/>
<polygon points="241.5,356.2 252.4,357.6 258.6,341.1 247.7,339.7" fill="#2676b8"/>
<polygon points="165.6,378.8 176.9,392.8 183.3,383.3 172.0,369.3" fill="#105ba4"/>
<polygon points="239.8,388.1 250.6,385.6 256.9,370.9 246.1,373.4" fill="#125da6"/>
<polygon points="184.7,344.6 195.9,358.6 202.2,343.9 190.9,329.8" fill="#2b7bba"/>
<polygon points="271.7,200.7 282.7,213.7 289.1,211.2 278.1,198.2" fill="#c1d9ed"/>
<polygon points="462.5,253.7 473.2,266.5 478.5,270.5 467.9,257.6" fill="#81badb"/>
<polygon points="236.8,333.9 247.7,339.7 254.0,322.9 243.0,317.1" fill="#3989c1"/>
<polygon points="208.4,328.0 219.5,340.7 225.7,324.2 214.6,311.4" fill="#3b8bc2"/>
<polygon points="177.7,167.3 188.1,160.0 194.7,155.4 184.3,162.7" fill="#dfecf7"/>
<polygon points="225.7,324.2 236.8,333.9 243.0,317.1 232.0,307.4" fill="#4090c5"/>
<polygon points="93.6,354.7 103.9,350.4 110.5,343.1 100.3,347.4" fill="#2979b9"/>
<polygon points="125.5,298.6 135.9,294.1 142.0,278.1 131.6,282.7" fill="#63a8d3"/>
<polygon points="214.4,429.7 225.1,427.3 231.6,419.9 220.8,422.3" fill="#083979"/>
<polygon points="246.1,373.4 256.9,370.9 263.2,355.0 252.4,357.6" fill="#1d6cb1"/>
<polygon points="133.6,256.0 143.8,249.1 149.9,232.3 139.7,239.3" fill="#9cc9e1"/>
<polygon points="435.9,217.9 446.7,229.5 452.2,234.4 441.4,222.8" fill="#afd1e7"/>
<polygon points="159.0,386.2 170.3,400.1 176.9,392.8 165.6,378.8" fill="#0e58a2"/>
<polygon points="190.9,329.8 202.2,343.9 208.4,328.0 197.2,313.9" fill="#3b8bc2"/>
<polygon points="256.0,169.8 267.1,183.8 273.5,183.6 262.5,169.6" fill="#d7e6f5"/>
<polygon points="287.4,228.3 298.4,234.0 304.7,229.2 293.7,223.5" fill="#add0e6"/>
<polygon points="247.7,339.7 258.6,341.1 264.9,324.2 254.0,322.9" fill="#3989c1"/>
<polygon points="276.4,218.4 287.4,228.3 293.7,223.5 282.7,213.7" fill="#b5d4e9"/>
<polygon points="413.7,206.6 424.9,210.0 430.5,214.9 419.4,211.5" fill="#c1d9ed"/>
<polygon points="212.0,148.1 222.8,146.8 229.5,146.7 218.7,147.9" fill="#eaf3fb"/>
<polygon points="160.7,355.8 172.0,369.3 178.4,357.9 167.1,344.3" fill="#2474b7"/>
<polygon points="167.1,344.3 178.4,357.9 184.7,344.6 173.4,331.0" fill="#2f7fbc"/>
<polygon points="243.0,317.1 254.0,322.9 260.3,306.3 249.3,300.5" fill="#4d99ca"/>
<polygon points="194.7,155.4 205.4,150.3 212.0,148.1 201.4,153.1" fill="#e8f1fa"/>
<polygon points="385.2,208.2 396.6,203.4 402.4,207.7 391.1,212.5" fill="#c4daee"/>
<polygon points="214.6,311.4 225.7,324.2 232.0,307.4 220.8,294.5" fill="#519ccc"/>
<polygon points="424.9,210.0 435.9,217.9 441.4,222.8 430.5,214.9" fill="#bcd7eb"/>
<polygon points="232.0,307.4 243.0,317.1 249.3,300.5 238.2,290.7" fill="#56a0ce"/>
<polygon points="117.0,333.7 127.6,332.9 134.0,321.4 123.4,322.2" fill="#3e8ec4"/>
<polygon points="131.6,282.7 142.0,278.1 148.1,261.4 137.7,266.0" fill="#7cb7da"/>
<polygon points="315.7,230.4 326.8,227.4 333.1,224.8 322.0,227.9" fill="#b0d2e7"/>
<polygon points="123.4,322.2 134.0,321.4 140.3,308.1 129.7,308.9" fill="#4b98ca"/>
<polygon points="154.3,365.3 165.6,378.8 172.0,369.3 160.7,355.8" fill="#1e6db2"/>
<polygon points="260.6,186.2 271.7,200.7 278.1,198.2 267.1,183.8" fill="#d0e1f2"/>
<polygon points="451.8,239.3 462.5,253.7 467.9,257.6 457.3,243.4" fill="#9cc9e1"/>
<polygon points="298.4,234.0 309.4,235.2 315.7,230.4 304.7,229.2" fill="#add0e6"/>
<polygon points="173.4,331.0 184.7,344.6 190.9,329.8 179.7,316.2" fill="#3d8dc4"/>
<polygon points="252.4,357.6 263.2,355.0 269.6,338.4 258.6,341.1" fill="#2e7ebc"/>
<polygon points="139.7,239.3 149.9,232.3 156.1,216.2 145.8,223.3" fill="#b2d2e8"/>
<polygon points="171.1,174.3 181.6,167.0 188.1,160.0 177.7,167.3" fill="#dfecf7"/>
<polygon points="333.1,224.8 344.3,218.7 350.5,218.3 339.3,224.4" fill="#b8d5ea"/>
<polygon points="197.2,313.9 208.4,328.0 214.6,311.4 203.4,297.2" fill="#4e9acb"/>
<polygon points="110.5,343.1 121.1,342.4 127.6,332.9 117.0,333.7" fill="#3787c0"/>
<polygon points="367.9,212.3 379.3,205.1 385.2,208.2 373.8,215.3" fill="#c4daee"/>
<polygon points="350.5,218.3 361.8,210.7 367.9,212.3 356.6,219.8" fill="#bfd8ed"/>
<polygon points="129.7,308.9 140.3,308.1 146.5,293.2 135.9,294.1" fill="#5ca4d0"/>
<polygon points="265.3,205.4 276.4,218.4 282.7,213.7 271.7,200.7" fill="#c6dbef"/>
<polygon points="254.0,322.9 264.9,324.2 271.2,307.6 260.3,306.3" fill="#4d99ca"/>
<polygon points="238.0,410.3 248.7,405.0 255.1,393.5 244.3,398.9" fill="#09529d"/>
<polygon points="244.8,158.1 256.0,169.8 262.5,169.6 251.4,157.9" fill="#e3eef8"/>
<polygon points="244.3,398.9 255.1,393.5 261.5,380.2 250.6,385.6" fill="#125da6"/>
<polygon points="249.3,300.5 260.3,306.3 266.6,290.3 255.6,284.6" fill="#63a8d3"/>
<polygon points="281.0,235.4 292.0,241.2 298.4,234.0 287.4,228.3" fill="#add0e6"/>
<polygon points="238.2,290.7 249.3,300.5 255.6,284.6 244.5,274.7" fill="#6caed6"/>
<polygon points="270.0,225.5 281.0,235.4 287.4,228.3 276.4,218.4" fill="#b5d4e9"/>
<polygon points="147.7,372.6 159.0,386.2 165.6,378.8 154.3,365.3" fill="#1b69af"/>
<polygon points="179.7,316.2 190.9,329.8 197.2,313.9 185.9,300.2" fill="#4f9bcb"/>
<polygon points="220.8,294.5 232.0,307.4 238.2,290.7 227.1,277.8" fill="#66abd4"/>
<polygon points="222.8,146.8 233.8,150.2 240.4,150.0 229.5,146.7" fill="#eef5fc"/>
<polygon points="231.6,419.9 242.3,414.6 248.7,405.0 238.0,410.3" fill="#084b93"/>
<polygon points="145.8,223.3 156.1,216.2 162.4,201.3 152.0,208.4" fill="#c4daee"/>
<polygon points="149.5,344.4 160.7,355.8 167.1,344.3 155.9,332.8" fill="#3484bf"/>
<polygon points="478.5,273.6 489.7,279.4 495.1,282.1 484.0,276.4" fill="#7ab6d9"/>
<polygon points="155.9,332.8 167.1,344.3 173.4,331.0 162.2,319.5" fill="#3e8ec4"/>
<polygon points="137.7,266.0 148.1,261.4 154.3,244.4 143.8,249.1" fill="#97c6df"/>
<polygon points="250.6,385.6 261.5,380.2 267.8,365.4 256.9,370.9" fill="#1c6ab0"/>
<polygon points="164.7,183.6 175.1,176.4 181.6,167.0 171.1,174.3" fill="#dceaf6"/>
<polygon points="467.7,263.7 478.5,273.6 484.0,276.4 473.2,266.5" fill="#85bcdc"/>
<polygon points="103.9,350.4 114.4,349.7 121.1,342.4 110.5,343.1" fill="#3383be"/>
<polygon points="233.8,150.2 244.8,158.1 251.4,157.9 240.4,150.0" fill="#eaf3fb"/>
<polygon points="135.9,294.1 146.5,293.2 152.7,277.2 142.0,278.1" fill="#71b1d7"/>
<polygon points="258.6,341.1 269.6,338.4 275.9,321.5 264.9,324.2" fill="#4090c5"/>
<polygon points="127.6,332.9 138.4,336.5 144.8,325.0 134.0,321.4" fill="#4292c6"/>
<polygon points="143.0,353.9 154.3,365.3 160.7,355.8 149.5,344.4" fill="#2d7dbb"/>
<polygon points="134.0,321.4 144.8,325.0 151.1,311.6 140.3,308.1" fill="#4f9bcb"/>
<polygon points="203.4,297.2 214.6,311.4 220.8,294.5 209.6,280.3" fill="#65aad4"/>
<polygon points="152.0,208.4 162.4,201.3 168.7,187.9 158.3,195.1" fill="#cfe1f2"/>
<polygon points="158.3,195.1 168.7,187.9 175.1,176.4 164.7,183.6" fill="#d7e6f5"/>
<polygon points="255.6,284.6 266.6,290.3 272.9,275.4 261.9,269.7" fill="#7ab6d9"/>
<polygon points="162.2,319.5 173.4,331.0 179.7,316.2 168.4,304.7" fill="#4f9bcb"/>
<polygon points="260.3,306.3 271.2,307.6 277.6,291.6 266.6,290.3" fill="#63a8d3"/>
<polygon points="292.0,241.2 303.1,242.3 309.4,235.2 298.4,234.0" fill="#add0e6"/>
<polygon points="138.4,336.5 149.5,344.4 155.9,332.8 144.8,325.0" fill="#3e8ec4"/>
<polygon points="274.6,244.8 285.7,250.6 292.0,241.2 281.0,235.4" fill="#a8cee4"/>
<polygon points="144.8,325.0 155.9,332.8 162.2,319.5 151.1,311.6" fill="#4b98ca"/>
<polygon points="244.5,274.7 255.6,284.6 261.9,269.7 250.8,259.8" fill="#85bcdc"/>
<polygon points="121.1,342.4 131.9,346.0 138.4,336.5 127.6,332.9" fill="#3b8bc2"/>
<polygon points="188.1,160.0 198.8,155.0 205.4,150.3 194.7,155.4" fill="#ebf3fb"/>
<polygon points="249.4,172.2 260.6,186.2 267.1,183.8 256.0,169.8" fill="#dceaf6"/>
<polygon points="441.1,225.4 451.8,239.3 457.3,243.4 446.7,229.5" fill="#b2d2e8"/>
<polygon points="263.6,234.9 274.6,244.8 281.0,235.4 270.0,225.5" fill="#b0d2e7"/>
<polygon points="140.3,308.1 151.1,311.6 157.4,296.8 146.5,293.2" fill="#60a7d2"/>
<polygon points="225.1,427.3 235.9,422.0 242.3,414.6 231.6,419.9" fill="#08478d"/>
<polygon points="256.9,370.9 267.8,365.4 274.2,349.4 263.2,355.0" fill="#2a7ab9"/>
<polygon points="185.9,300.2 197.2,313.9 203.4,297.2 192.1,283.5" fill="#65aad4"/>
<polygon points="227.1,277.8 238.2,290.7 244.5,274.7 233.3,261.8" fill="#81badb"/>
<polygon points="258.8,212.5 270.0,225.5 276.4,218.4 265.3,205.4" fill="#c6dbef"/>
<polygon points="261.9,269.7 272.9,275.4 279.3,262.1 268.3,256.3" fill="#8fc2de"/>
<polygon points="309.4,235.2 320.5,232.2 326.8,227.4 315.7,230.4" fill="#b5d4e9"/>
<polygon points="131.9,346.0 143.0,353.9 149.5,344.4 138.4,336.5" fill="#3787c0"/>
<polygon points="268.3,256.3 279.3,262.1 285.7,250.6 274.6,244.8" fill="#9fcae1"/>
<polygon points="254.1,190.9 265.3,205.4 271.7,200.7 260.6,186.2" fill="#d3e3f3"/>
<polygon points="205.4,150.3 216.2,149.1 222.8,146.8 212.0,148.1" fill="#f0f6fd"/>
<polygon points="396.6,203.4 407.9,202.3 413.7,206.6 402.4,207.7" fill="#cddff1"/>
<polygon points="151.1,311.6 162.2,319.5 168.4,304.7 157.4,296.8" fill="#5ca4d0"/>
<polygon points="250.8,259.8 261.9,269.7 268.3,256.3 257.2,246.4" fill="#9ac8e0"/>
<polygon points="143.8,249.1 154.3,244.4 160.4,227.6 149.9,232.3" fill="#afd1e7"/>
<polygon points="257.2,246.4 268.3,256.3 274.6,244.8 263.6,234.9" fill="#a8cee4"/>
<polygon points="456.9,250.8 467.7,263.7 473.2,266.5 462.5,253.7" fill="#9ac8e0"/>
<polygon points="142.0,278.1 152.7,277.2 158.8,260.5 148.1,261.4" fill="#8cc0dd"/>
<polygon points="136.4,361.2 147.7,372.6 154.3,365.3 143.0,353.9" fill="#2979b9"/>
<polygon points="168.4,304.7 179.7,316.2 185.9,300.2 174.6,288.6" fill="#63a8d3"/>
<polygon points="266.6,290.3 277.6,291.6 283.9,276.7 272.9,275.4" fill="#7ab6d9"/>
<polygon points="264.9,324.2 275.9,321.5 282.2,304.8 271.2,307.6" fill="#56a0ce"/>
<polygon points="285.7,250.6 296.7,251.8 303.1,242.3 292.0,241.2" fill="#a8cee4"/>
<polygon points="209.6,280.3 220.8,294.5 227.1,277.8 215.8,263.5" fill="#81badb"/>
<polygon points="114.4,349.7 125.2,353.3 131.9,346.0 121.1,342.4" fill="#3787c0"/>
<polygon points="146.5,293.2 157.4,296.8 163.5,280.7 152.7,277.2" fill="#77b5d9"/>
<polygon points="326.8,227.4 338.1,221.2 344.3,218.7 333.1,224.8" fill="#c1d9ed"/>
<polygon points="233.3,261.8 244.5,274.7 250.8,259.8 239.7,246.9" fill="#9ac8e0"/>
<polygon points="272.9,275.4 283.9,276.7 290.3,263.3 279.3,262.1" fill="#8fc2de"/>
<polygon points="252.4,221.9 263.6,234.9 270.0,225.5 258.8,212.5" fill="#c1d9ed"/>
<polygon points="279.3,262.1 290.3,263.3 296.7,251.8 285.7,250.6" fill="#9fcae1"/>
<polygon points="263.2,355.0 274.2,349.4 280.5,332.7 269.6,338.4" fill="#3b8bc2"/>
<polygon points="125.2,353.3 136.4,361.2 143.0,353.9 131.9,346.0" fill="#3383be"/>
<polygon points="157.4,296.8 168.4,304.7 174.6,288.6 163.5,280.7" fill="#71b1d7"/>
<polygon points="192.1,283.5 203.4,297.2 209.6,280.3 198.3,266.5" fill="#7fb9da"/>
<polygon points="238.3,160.4 249.4,172.2 256.0,169.8 244.8,158.1" fill="#e8f1fa"/>
<polygon points="430.2,213.7 441.1,225.4 446.7,229.5 435.9,217.9" fill="#c4daee"/>
<polygon points="149.9,232.3 160.4,227.6 166.7,211.4 156.1,216.2" fill="#c4daee"/>
<polygon points="239.7,246.9 250.8,259.8 257.2,246.4 246.0,233.5" fill="#abd0e6"/>
<polygon points="181.6,167.0 192.2,162.0 198.8,155.0 188.1,160.0" fill="#ebf3fb"/>
<polygon points="246.0,233.5 257.2,246.4 263.6,234.9 252.4,221.9" fill="#b8d5ea"/>
<polygon points="174.6,288.6 185.9,300.2 192.1,283.5 180.8,271.9" fill="#7cb7da"/>
<polygon points="148.1,261.4 158.8,260.5 165.0,243.4 154.3,244.4" fill="#a6cee4"/>
<polygon points="271.2,307.6 282.2,304.8 288.6,288.7 277.6,291.6" fill="#6caed6"/>
<polygon points="303.1,242.3 314.2,239.3 320.5,232.2 309.4,235.2" fill="#b5d4e9"/>
<polygon points="344.3,218.7 355.6,211.1 361.8,210.7 350.5,218.3" fill="#cadef0"/>
<polygon points="216.2,149.1 227.2,152.5 233.8,150.2 222.8,146.8" fill="#f3f8fe"/>
<polygon points="407.9,202.3 419.2,205.7 424.9,210.0 413.7,206.6" fill="#d0e1f2"/>
<polygon points="379.3,205.1 390.7,200.3 396.6,203.4 385.2,208.2" fill="#d0e2f2"/>
<polygon points="215.8,263.5 227.1,277.8 233.3,261.8 222.1,247.4" fill="#9cc9e1"/>
<polygon points="247.7,198.0 258.8,212.5 265.3,205.4 254.1,190.9" fill="#d3e3f3"/>
<polygon points="152.7,277.2 163.5,280.7 169.7,264.0 158.8,260.5" fill="#92c4de"/>
<polygon points="242.9,176.9 254.1,190.9 260.6,186.2 249.4,172.2" fill="#dfecf7"/>
<polygon points="227.2,152.5 238.3,160.4 244.8,158.1 233.8,150.2" fill="#f0f6fd"/>
<polygon points="419.2,205.7 430.2,213.7 435.9,217.9 424.9,210.0" fill="#cddff1"/>
<polygon points="446.2,236.4 456.9,250.8 462.5,253.7 451.8,239.3" fill="#afd1e7"/>
<polygon points="248.7,405.0 259.6,398.3 266.0,386.7 255.1,393.5" fill="#1663aa"/>
<polygon points="361.8,210.7 373.2,203.6 379.3,205.1 367.9,212.3" fill="#cfe1f2"/>
<polygon points="255.1,393.5 266.0,386.7 272.4,373.4 261.5,380.2" fill="#1e6db2"/>
<polygon points="163.5,280.7 174.6,288.6 180.8,271.9 169.7,264.0" fill="#8cc0dd"/>
<polygon points="156.1,216.2 166.7,211.4 172.9,196.4 162.4,201.3" fill="#d0e2f2"/>
<polygon points="269.6,338.4 280.5,332.7 286.9,315.8 275.9,321.5" fill="#519ccc"/>
<polygon points="198.8,155.0 209.6,153.7 216.2,149.1 205.4,150.3" fill="#f3f8fe"/>
<polygon points="175.1,176.4 185.7,171.4 192.2,162.0 181.6,167.0" fill="#e8f1fa"/>
<polygon points="198.3,266.5 209.6,280.3 215.8,263.5 204.5,249.6" fill="#9cc9e1"/>
<polygon points="242.3,414.6 253.2,407.9 259.6,398.3 248.7,405.0" fill="#105ba4"/>
<polygon points="277.6,291.6 288.6,288.7 295.0,273.8 283.9,276.7" fill="#85bcdc"/>
<polygon points="222.1,247.4 233.3,261.8 239.7,246.9 228.4,232.5" fill="#afd1e7"/>
<polygon points="261.5,380.2 272.4,373.4 278.8,358.5 267.8,365.4" fill="#2b7bba"/>
<polygon points="296.7,251.8 307.8,248.8 314.2,239.3 303.1,242.3" fill="#b0d2e7"/>
<polygon points="473.0,272.4 484.1,278.2 489.7,279.4 478.5,273.6" fill="#8fc2de"/>
<polygon points="180.8,271.9 192.1,283.5 198.3,266.5 187.1,254.8" fill="#97c6df"/>
<polygon points="241.2,207.4 252.4,221.9 258.8,212.5 247.7,198.0" fill="#d0e1f2"/>
<polygon points="162.4,201.3 172.9,196.4 179.3,182.9 168.7,187.9" fill="#dae8f6"/>
<polygon points="154.3,244.4 165.0,243.4 171.2,226.5 160.4,227.6" fill="#bcd7eb"/>
<polygon points="168.7,187.9 179.3,182.9 185.7,171.4 175.1,176.4" fill="#e3eef8"/>
<polygon points="462.0,262.4 473.0,272.4 478.5,273.6 467.7,263.7" fill="#9ac8e0"/>
<polygon points="283.9,276.7 295.0,273.8 301.4,260.4 290.3,263.3" fill="#9ac8e0"/>
<polygon points="320.5,232.2 331.7,226.1 338.1,221.2 326.8,227.4" fill="#c6dbef"/>
<polygon points="290.3,263.3 301.4,260.4 307.8,248.8 296.7,251.8" fill="#a8cee4"/>
<polygon points="158.8,260.5 169.7,264.0 175.9,246.9 165.0,243.4" fill="#aacfe5"/>
<polygon points="228.4,232.5 239.7,246.9 246.0,233.5 234.8,219.0" fill="#bfd8ed"/>
<polygon points="234.8,219.0 246.0,233.5 252.4,221.9 241.2,207.4" fill="#cadef0"/>
<polygon points="169.7,264.0 180.8,271.9 187.1,254.8 175.9,246.9" fill="#a6cee4"/>
<polygon points="231.7,165.1 242.9,176.9 249.4,172.2 238.3,160.4" fill="#ebf3fb"/>
<polygon points="235.9,422.0 246.7,415.4 253.2,407.9 242.3,414.6" fill="#0e58a2"/>
<polygon points="267.8,365.4 278.8,358.5 285.2,342.4 274.2,349.4" fill="#3b8bc2"/>
<polygon points="275.9,321.5 286.9,315.8 293.3,299.0 282.2,304.8" fill="#66abd4"/>
<polygon points="204.5,249.6 215.8,263.5 222.1,247.4 210.8,233.5" fill="#b2d2e8"/>
<polygon points="236.4,184.0 247.7,198.0 254.1,190.9 242.9,176.9" fill="#dfecf7"/>
<polygon points="209.6,153.7 220.6,157.1 227.2,152.5 216.2,149.1" fill="#f6faff"/>
<polygon points="435.4,222.3 446.2,236.4 451.8,239.3 441.1,225.4" fill="#c4daee"/>
<polygon points="160.4,227.6 171.2,226.5 177.4,210.3 166.7,211.4" fill="#cddff1"/>
<polygon points="192.2,162.0 203.0,160.8 209.6,153.7 198.8,155.0" fill="#f3f8fe"/>
<polygon points="187.1,254.8 198.3,266.5 204.5,249.6 193.3,238.0" fill="#afd1e7"/>
<polygon points="451.2,249.4 462.0,262.4 467.7,263.7 456.9,250.8" fill="#abd0e6"/>
<polygon points="220.6,157.1 231.7,165.1 238.3,160.4 227.2,152.5" fill="#f3f8fe"/>
<polygon points="390.7,200.3 402.1,199.1 407.9,202.3 396.6,203.4" fill="#d9e7f5"/>
<polygon points="165.0,243.4 175.9,246.9 182.1,230.0 171.2,226.5" fill="#c1d9ed"/>
<polygon points="338.1,221.2 349.4,213.6 355.6,211.1 344.3,218.7" fill="#d0e1f2"/>
<polygon points="210.8,233.5 222.1,247.4 228.4,232.5 217.2,218.4" fill="#c4daee"/>
<polygon points="230.0,193.4 241.2,207.4 247.7,198.0 236.4,184.0" fill="#dceaf6"/>
<polygon points="274.2,349.4 285.2,342.4 291.6,325.7 280.5,332.7" fill="#4e9acb"/>
<polygon points="282.2,304.8 293.3,299.0 299.7,282.9 288.6,288.7" fill="#81badb"/>
<polygon points="314.2,239.3 325.4,233.2 331.7,226.1 320.5,232.2" fill="#c6dbef"/>
<polygon points="175.9,246.9 187.1,254.8 193.3,238.0 182.1,230.0" fill="#bcd7eb"/>
<polygon points="166.7,211.4 177.4,210.3 183.7,195.3 172.9,196.4" fill="#d9e7f5"/>
<polygon points="185.7,171.4 196.5,170.2 203.0,160.8 192.2,162.0" fill="#f0f6fd"/>
<polygon points="217.2,218.4 228.4,232.5 234.8,219.0 223.5,205.0" fill="#cfe1f2"/>
<polygon points="223.5,205.0 234.8,219.0 241.2,207.4 230.0,193.4" fill="#d7e6f5"/>
<polygon points="193.3,238.0 204.5,249.6 210.8,233.5 199.6,221.8" fill="#c4daee"/>
<polygon points="225.2,172.2 236.4,184.0 242.9,176.9 231.7,165.1" fill="#ebf3fb"/>
<polygon points="172.9,196.4 183.7,195.3 190.1,181.8 179.3,182.9" fill="#e3eef8"/>
<polygon points="355.6,211.1 367.1,203.9 373.2,203.6 361.8,210.7" fill="#d7e6f5"/>
<polygon points="424.5,210.6 435.4,222.3 441.1,225.4 430.2,213.7" fill="#d0e2f2"/>
<polygon points="179.3,182.9 190.1,181.8 196.5,170.2 185.7,171.4" fill="#eaf3fb"/>
<polygon points="373.2,203.6 384.7,198.7 390.7,200.3 379.3,205.1" fill="#dae8f6"/>
<polygon points="171.2,226.5 182.1,230.0 188.4,213.8 177.4,210.3" fill="#d0e1f2"/>
<polygon points="203.0,160.8 214.1,164.2 220.6,157.1 209.6,153.7" fill="#f6faff"/>
<polygon points="288.6,288.7 299.7,282.9 306.1,267.8 295.0,273.8" fill="#9ac8e0"/>
<polygon points="307.8,248.8 319.0,242.7 325.4,233.2 314.2,239.3" fill="#c1d9ed"/>
<polygon points="259.6,398.3 270.6,392.0 277.0,380.4 266.0,386.7" fill="#2474b7"/>
<polygon points="402.1,199.1 413.3,202.6 419.2,205.7 407.9,202.3" fill="#dbe9f6"/>
<polygon points="440.4,234.9 451.2,249.4 456.9,250.8 446.2,236.4" fill="#bfd8ed"/>
<polygon points="182.1,230.0 193.3,238.0 199.6,221.8 188.4,213.8" fill="#cddff1"/>
<polygon points="214.1,164.2 225.2,172.2 231.7,165.1 220.6,157.1" fill="#f3f8fe"/>
<polygon points="266.0,386.7 277.0,380.4 283.4,366.9 272.4,373.4" fill="#2f7fbc"/>
<polygon points="280.5,332.7 291.6,325.7 298.0,308.6 286.9,315.8" fill="#65aad4"/>
<polygon points="199.6,221.8 210.8,233.5 217.2,218.4 205.9,206.7" fill="#d0e2f2"/>
<polygon points="467.2,273.0 478.4,278.8 484.1,278.2 473.0,272.4" fill="#9fcae1"/>
<polygon points="295.0,273.8 306.1,267.8 312.6,254.4 301.4,260.4" fill="#abd0e6"/>
<polygon points="301.4,260.4 312.6,254.4 319.0,242.7 307.8,248.8" fill="#b8d5ea"/>
<polygon points="218.7,181.6 230.0,193.4 236.4,184.0 225.2,172.2" fill="#e8f1fa"/>
<polygon points="413.3,202.6 424.5,210.6 430.2,213.7 419.2,205.7" fill="#d9e7f5"/>
<polygon points="456.2,263.0 467.2,273.0 473.0,272.4 462.0,262.4" fill="#a8cee4"/>
<polygon points="253.2,407.9 264.1,401.7 270.6,392.0 259.6,398.3" fill="#1e6db2"/>
<polygon points="177.4,210.3 188.4,213.8 194.7,198.7 183.7,195.3" fill="#dbe9f6"/>
<polygon points="272.4,373.4 283.4,366.9 289.8,352.0 278.8,358.5" fill="#3d8dc4"/>
<polygon points="370.8,460.7 381.9,466.6 388.3,454.9 377.2,449.0" fill="#083d7f"/>
<polygon points="377.2,449.0 388.3,454.9 394.8,441.5 383.6,435.6" fill="#084990"/>
<polygon points="205.9,206.7 217.2,218.4 223.5,205.0 212.3,193.2" fill="#dae8f6"/>
<polygon points="196.5,170.2 207.6,173.6 214.1,164.2 203.0,160.8" fill="#f3f8fe"/>
<polygon points="212.3,193.2 223.5,205.0 230.0,193.4 218.7,181.6" fill="#e3eef8"/>
<polygon points="359.7,450.9 370.8,460.7 377.2,449.0 366.1,439.3" fill="#08458a"/>
<polygon points="331.7,226.1 343.1,218.4 349.4,213.6 338.1,221.2" fill="#d3e3f3"/>
<polygon points="366.1,439.3 377.2,449.0 383.6,435.6 372.5,425.8" fill="#08509b"/>
<polygon points="188.4,213.8 199.6,221.8 205.9,206.7 194.7,198.7" fill="#d9e7f5"/>
<polygon points="364.4,470.4 375.6,476.3 381.9,466.6 370.8,460.7" fill="#083674"/>
<polygon points="207.6,173.6 218.7,181.6 225.2,172.2 214.1,164.2" fill="#f0f6fd"/>
<polygon points="183.7,195.3 194.7,198.7 201.1,185.2 190.1,181.8" fill="#e5eff9"/>
<polygon points="190.1,181.8 201.1,185.2 207.6,173.6 196.5,170.2" fill="#eef5fc"/>
<polygon points="383.6,435.6 394.8,441.5 401.3,426.6 390.1,420.8" fill="#0c56a0"/>
<polygon points="353.3,460.6 364.4,470.4 370.8,460.7 359.7,450.9" fill="#083d7f"/>
<polygon points="286.9,315.8 298.0,308.6 304.4,291.7 293.3,299.0" fill="#81badb"/>
<polygon points="372.5,425.8 383.6,435.6 390.1,420.8 379.0,410.9" fill="#125da6"/>
<polygon points="194.7,198.7 205.9,206.7 212.3,193.2 201.1,185.2" fill="#e3eef8"/>
<polygon points="246.7,415.4 257.6,409.2 264.1,401.7 253.2,407.9" fill="#1b69af"/>
<polygon points="278.8,358.5 289.8,352.0 296.3,335.9 285.2,342.4" fill="#4f9bcb"/>
<polygon points="201.1,185.2 212.3,193.2 218.7,181.6 207.6,173.6" fill="#eaf3fb"/>
<polygon points="445.4,249.9 456.2,263.0 462.0,262.4 451.2,249.4" fill="#b8d5ea"/>
<polygon points="429.6,220.9 440.4,234.9 446.2,236.4 435.4,222.3" fill="#cfe1f2"/>
<polygon points="348.7,438.2 359.7,450.9 366.1,439.3 355.1,426.6" fill="#09529d"/>
<polygon points="355.1,426.6 366.1,439.3 372.5,425.8 361.5,413.1" fill="#125da6"/>
<polygon points="358.1,478.0 369.3,483.9 375.6,476.3 364.4,470.4" fill="#08326e"/>
<polygon points="390.1,420.8 401.3,426.6 407.9,410.6 396.7,404.8" fill="#1865ac"/>
<polygon points="384.7,198.7 396.1,197.5 402.1,199.1 390.7,200.3" fill="#e3eef8"/>
<polygon points="347.0,468.2 358.1,478.0 364.4,470.4 353.3,460.6" fill="#083979"/>
<polygon points="379.0,410.9 390.1,420.8 396.7,404.8 385.6,394.9" fill="#1d6cb1"/>
<polygon points="349.4,213.6 360.8,206.4 367.1,203.9 355.6,211.1" fill="#dceaf6"/>
<polygon points="342.3,447.9 353.3,460.6 359.7,450.9 348.7,438.2" fill="#084b93"/>
<polygon points="293.3,299.0 304.4,291.7 310.9,275.5 299.7,282.9" fill="#9cc9e1"/>
<polygon points="325.4,233.2 336.7,225.7 343.1,218.4 331.7,226.1" fill="#d3e3f3"/>
<polygon points="361.5,413.1 372.5,425.8 379.0,410.9 368.0,398.2" fill="#1c6ab0"/>
<polygon points="285.2,342.4 296.3,335.9 302.7,319.0 291.6,325.7" fill="#65aad4"/>
<polygon points="367.1,203.9 378.5,199.0 384.7,198.7 373.2,203.6" fill="#e3eef8"/>
<polygon points="461.3,275.7 472.6,281.5 478.4,278.8 467.2,273.0" fill="#a8cee4"/>
<polygon points="396.7,404.8 407.9,410.6 414.5,393.9 403.3,388.1" fill="#2676b8"/>
<polygon points="450.3,265.7 461.3,275.7 467.2,273.0 456.2,263.0" fill="#b0d2e7"/>
<polygon points="434.5,235.4 445.4,249.9 451.2,249.4 440.4,234.9" fill="#cadef0"/>
<polygon points="299.7,282.9 310.9,275.5 317.4,260.4 306.1,267.8" fill="#afd1e7"/>
<polygon points="270.6,392.0 281.7,387.9 288.1,376.2 277.0,380.4" fill="#3484bf"/>
<polygon points="418.6,209.0 429.6,220.9 435.4,222.3 424.5,210.6" fill="#dae8f6"/>
<polygon points="385.6,394.9 396.7,404.8 403.3,388.1 392.2,378.2" fill="#2e7ebc"/>
<polygon points="335.9,455.5 347.0,468.2 353.3,460.6 342.3,447.9" fill="#08478d"/>
<polygon points="277.0,380.4 288.1,376.2 294.6,362.7 283.4,366.9" fill="#3e8ec4"/>
<polygon points="368.0,398.2 379.0,410.9 385.6,394.9 374.6,382.1" fill="#2a7ab9"/>
<polygon points="319.0,242.7 330.3,235.2 336.7,225.7 325.4,233.2" fill="#d0e1f2"/>
<polygon points="337.6,424.2 348.7,438.2 355.1,426.6 344.0,412.5" fill="#1663aa"/>
<polygon points="396.1,197.5 407.4,201.0 413.3,202.6 402.1,199.1" fill="#e5eff9"/>
<polygon points="344.0,412.5 355.1,426.6 361.5,413.1 350.5,399.0" fill="#1e6db2"/>
<polygon points="264.1,401.7 275.2,397.5 281.7,387.9 270.6,392.0" fill="#2d7dbb"/>
<polygon points="291.6,325.7 302.7,319.0 309.2,301.8 298.0,308.6" fill="#7fb9da"/>
<polygon points="306.1,267.8 317.4,260.4 323.8,246.9 312.6,254.4" fill="#bfd8ed"/>
<polygon points="312.6,254.4 323.8,246.9 330.3,235.2 319.0,242.7" fill="#cadef0"/>
<polygon points="283.4,366.9 294.6,362.7 301.0,347.6 289.8,352.0" fill="#4f9bcb"/>
<polygon points="407.4,201.0 418.6,209.0 424.5,210.6 413.3,202.6" fill="#e3eef8"/>
<polygon points="331.2,433.9 342.3,447.9 348.7,438.2 337.6,424.2" fill="#105ba4"/>
<polygon points="350.5,399.0 361.5,413.1 368.0,398.2 357.0,384.0" fill="#2b7bba"/>
<polygon points="439.4,252.6 450.3,265.7 456.2,263.0 445.4,249.9" fill="#c1d9ed"/>
<polygon points="403.3,388.1 414.5,393.9 421.1,376.9 409.9,371.0" fill="#3989c1"/>
<polygon points="374.6,382.1 385.6,394.9 392.2,378.2 381.2,365.3" fill="#3b8bc2"/>
<polygon points="343.1,218.4 354.5,211.2 360.8,206.4 349.4,213.6" fill="#dfecf7"/>
<polygon points="392.2,378.2 403.3,388.1 409.9,371.0 398.8,361.1" fill="#4090c5"/>
<polygon points="257.6,409.2 268.7,405.1 275.2,397.5 264.1,401.7" fill="#2979b9"/>
<polygon points="289.8,352.0 301.0,347.6 307.5,331.5 296.3,335.9" fill="#63a8d3"/>
<polygon points="298.0,308.6 309.2,301.8 315.7,284.9 304.4,291.7" fill="#9cc9e1"/>
<polygon points="324.8,441.4 335.9,455.5 342.3,447.9 331.2,433.9" fill="#0e58a2"/>
<polygon points="357.0,384.0 368.0,398.2 374.6,382.1 363.6,367.9" fill="#3b8bc2"/>
<polygon points="423.6,221.3 434.5,235.4 440.4,234.9 429.6,220.9" fill="#d7e6f5"/>
<polygon points="455.3,280.7 466.5,286.5 472.6,281.5 461.3,275.7" fill="#add0e6"/>
<polygon points="444.2,270.7 455.3,280.7 461.3,275.7 450.3,265.7" fill="#b5d4e9"/>
<polygon points="378.5,199.0 390.0,197.9 396.1,197.5 384.7,198.7" fill="#eaf3fb"/>
<polygon points="326.5,410.5 337.6,424.2 344.0,412.5 332.9,398.8" fill="#2474b7"/>
<polygon points="332.9,398.8 344.0,412.5 350.5,399.0 339.4,385.2" fill="#2f7fbc"/>
<polygon points="409.9,371.0 421.1,376.9 427.8,360.1 416.5,354.2" fill="#4d99ca"/>
<polygon points="360.8,206.4 372.3,201.5 378.5,199.0 367.1,203.9" fill="#e8f1fa"/>
<polygon points="381.2,365.3 392.2,378.2 398.8,361.1 387.8,348.2" fill="#519ccc"/>
<polygon points="398.8,361.1 409.9,371.0 416.5,354.2 405.4,344.3" fill="#56a0ce"/>
<polygon points="281.7,387.9 292.8,387.2 299.3,375.5 288.1,376.2" fill="#3e8ec4"/>
<polygon points="296.3,335.9 307.5,331.5 314.0,314.5 302.7,319.0" fill="#7cb7da"/>
<polygon points="288.1,376.2 299.3,375.5 305.8,362.0 294.6,362.7" fill="#4b98ca"/>
<polygon points="320.0,420.2 331.2,433.9 337.6,424.2 326.5,410.5" fill="#1e6db2"/>
<polygon points="428.5,238.0 439.4,252.6 445.4,249.9 434.5,235.4" fill="#d0e1f2"/>
<polygon points="339.4,385.2 350.5,399.0 357.0,384.0 345.9,370.2" fill="#3d8dc4"/>
<polygon points="304.4,291.7 315.7,284.9 322.2,268.6 310.9,275.5" fill="#b2d2e8"/>
<polygon points="336.7,225.7 348.1,218.5 354.5,211.2 343.1,218.4" fill="#dfecf7"/>
<polygon points="363.6,367.9 374.6,382.1 381.2,365.3 370.1,351.0" fill="#4e9acb"/>
<polygon points="275.2,397.5 286.3,396.9 292.8,387.2 281.7,387.9" fill="#3787c0"/>
<polygon points="294.6,362.7 305.8,362.0 312.3,346.9 301.0,347.6" fill="#5ca4d0"/>
<polygon points="433.2,257.6 444.2,270.7 450.3,265.7 439.4,252.6" fill="#c6dbef"/>
<polygon points="412.6,209.4 423.6,221.3 429.6,220.9 418.6,209.0" fill="#e3eef8"/>
<polygon points="416.5,354.2 427.8,360.1 434.4,343.9 423.1,338.0" fill="#63a8d3"/>
<polygon points="449.0,288.0 460.3,293.9 466.5,286.5 455.3,280.7" fill="#add0e6"/>
<polygon points="405.4,344.3 416.5,354.2 423.1,338.0 412.0,328.0" fill="#6caed6"/>
<polygon points="438.0,278.0 449.0,288.0 455.3,280.7 444.2,270.7" fill="#b5d4e9"/>
<polygon points="313.6,427.8 324.8,441.4 331.2,433.9 320.0,420.2" fill="#1b69af"/>
<polygon points="345.9,370.2 357.0,384.0 363.6,367.9 352.5,354.0" fill="#4f9bcb"/>
<polygon points="387.8,348.2 398.8,361.1 405.4,344.3 394.4,331.3" fill="#66abd4"/>
<polygon points="390.0,197.9 401.4,201.3 407.4,201.0 396.1,197.5" fill="#eef5fc"/>
<polygon points="310.9,275.5 322.2,268.6 328.7,253.4 317.4,260.4" fill="#c4daee"/>
<polygon points="315.3,398.9 326.5,410.5 332.9,398.8 321.8,387.2" fill="#3484bf"/>
<polygon points="321.8,387.2 332.9,398.8 339.4,385.2 328.2,373.7" fill="#3e8ec4"/>
<polygon points="302.7,319.0 314.0,314.5 320.5,297.3 309.2,301.8" fill="#97c6df"/>
<polygon points="330.3,235.2 341.7,228.0 348.1,218.5 336.7,225.7" fill="#dceaf6"/>
<polygon points="268.7,405.1 279.8,404.5 286.3,396.9 275.2,397.5" fill="#3383be"/>
<polygon points="401.4,201.3 412.6,209.4 418.6,209.0 407.4,201.0" fill="#eaf3fb"/>
<polygon points="301.0,347.6 312.3,346.9 318.8,330.7 307.5,331.5" fill="#71b1d7"/>
<polygon points="292.8,387.2 304.1,390.9 310.5,379.2 299.3,375.5" fill="#4292c6"/>
<polygon points="308.8,408.7 320.0,420.2 326.5,410.5 315.3,398.9" fill="#2d7dbb"/>
<polygon points="299.3,375.5 310.5,379.2 317.0,365.6 305.8,362.0" fill="#4f9bcb"/>
<polygon points="370.1,351.0 381.2,365.3 387.8,348.2 376.7,333.8" fill="#65aad4"/>
<polygon points="317.4,260.4 328.7,253.4 335.2,239.8 323.8,246.9" fill="#cfe1f2"/>
<polygon points="323.8,246.9 335.2,239.8 341.7,228.0 330.3,235.2" fill="#d7e6f5"/>
<polygon points="423.1,338.0 434.4,343.9 441.0,328.8 429.7,322.9" fill="#7ab6d9"/>
<polygon points="328.2,373.7 339.4,385.2 345.9,370.2 334.7,358.6" fill="#4f9bcb"/>
<polygon points="304.1,390.9 315.3,398.9 321.8,387.2 310.5,379.2" fill="#3e8ec4"/>
<polygon points="442.7,297.6 454.0,303.5 460.3,293.9 449.0,288.0" fill="#a8cee4"/>
<polygon points="310.5,379.2 321.8,387.2 328.2,373.7 317.0,365.6" fill="#4b98ca"/>
<polygon points="412.0,328.0 423.1,338.0 429.7,322.9 418.6,312.9" fill="#85bcdc"/>
<polygon points="286.3,396.9 297.6,400.6 304.1,390.9 292.8,387.2" fill="#3b8bc2"/>
<polygon points="354.5,211.2 366.0,206.3 372.3,201.5 360.8,206.4" fill="#ebf3fb"/>
<polygon points="417.5,223.8 428.5,238.0 434.5,235.4 423.6,221.3" fill="#dceaf6"/>
<polygon points="431.6,287.6 442.7,297.6 449.0,288.0 438.0,278.0" fill="#b0d2e7"/>
<polygon points="305.8,362.0 317.0,365.6 323.5,350.6 312.3,346.9" fill="#60a7d2"/>
<polygon points="352.5,354.0 363.6,367.9 370.1,351.0 359.0,337.1" fill="#65aad4"/>
<polygon points="394.4,331.3 405.4,344.3 412.0,328.0 401.0,315.0" fill="#81badb"/>
<polygon points="427.0,264.9 438.0,278.0 444.2,270.7 433.2,257.6" fill="#c6dbef"/>
<polygon points="429.7,322.9 441.0,328.8 447.6,315.2 436.3,309.4" fill="#8fc2de"/>
<polygon points="297.6,400.6 308.8,408.7 315.3,398.9 304.1,390.9" fill="#3787c0"/>
<polygon points="436.3,309.4 447.6,315.2 454.0,303.5 442.7,297.6" fill="#9fcae1"/>
<polygon points="422.3,242.9 433.2,257.6 439.4,252.6 428.5,238.0" fill="#d3e3f3"/>
<polygon points="372.3,201.5 383.8,200.4 390.0,197.9 378.5,199.0" fill="#f0f6fd"/>
<polygon points="317.0,365.6 328.2,373.7 334.7,358.6 323.5,350.6" fill="#5ca4d0"/>
<polygon points="418.6,312.9 429.7,322.9 436.3,309.4 425.2,299.3" fill="#9ac8e0"/>
<polygon points="309.2,301.8 320.5,297.3 327.0,280.3 315.7,284.9" fill="#afd1e7"/>
<polygon points="425.2,299.3 436.3,309.4 442.7,297.6 431.6,287.6" fill="#a8cee4"/>
<polygon points="307.5,331.5 318.8,330.7 325.3,313.7 314.0,314.5" fill="#8cc0dd"/>
<polygon points="302.3,416.2 313.6,427.8 320.0,420.2 308.8,408.7" fill="#2979b9"/>
<polygon points="334.7,358.6 345.9,370.2 352.5,354.0 341.3,342.4" fill="#63a8d3"/>
<polygon points="376.7,333.8 387.8,348.2 394.4,331.3 383.4,316.8" fill="#81badb"/>
<polygon points="279.8,404.5 291.1,408.2 297.6,400.6 286.3,396.9" fill="#3787c0"/>
<polygon points="312.3,346.9 323.5,350.6 330.0,334.3 318.8,330.7" fill="#77b5d9"/>
<polygon points="401.0,315.0 412.0,328.0 418.6,312.9 407.6,299.9" fill="#9ac8e0"/>
<polygon points="420.6,274.5 431.6,287.6 438.0,278.0 427.0,264.9" fill="#c1d9ed"/>
<polygon points="291.1,408.2 302.3,416.2 308.8,408.7 297.6,400.6" fill="#3383be"/>
<polygon points="323.5,350.6 334.7,358.6 341.3,342.4 330.0,334.3" fill="#71b1d7"/>
<polygon points="359.0,337.1 370.1,351.0 376.7,333.8 365.6,319.9" fill="#7fb9da"/>
<polygon points="406.4,211.9 417.5,223.8 423.6,221.3 412.6,209.4" fill="#e8f1fa"/>
<polygon points="315.7,284.9 327.0,280.3 333.6,263.9 322.2,268.6" fill="#c4daee"/>
<polygon points="407.6,299.9 418.6,312.9 425.2,299.3 414.1,286.2" fill="#abd0e6"/>
<polygon points="348.1,218.5 359.6,213.6 366.0,206.3 354.5,211.2" fill="#ebf3fb"/>
<polygon points="414.1,286.2 425.2,299.3 431.6,287.6 420.6,274.5" fill="#b8d5ea"/>
<polygon points="341.3,342.4 352.5,354.0 359.0,337.1 347.9,325.4" fill="#7cb7da"/>
<polygon points="314.0,314.5 325.3,313.7 331.8,296.4 320.5,297.3" fill="#a6cee4"/>
<polygon points="383.8,200.4 395.2,203.8 401.4,201.3 390.0,197.9" fill="#f3f8fe"/>
<polygon points="383.4,316.8 394.4,331.3 401.0,315.0 390.0,300.5" fill="#9cc9e1"/>
<polygon points="416.0,250.2 427.0,264.9 433.2,257.6 422.3,242.9" fill="#d3e3f3"/>
<polygon points="318.8,330.7 330.0,334.3 336.6,317.3 325.3,313.7" fill="#92c4de"/>
<polygon points="411.3,228.7 422.3,242.9 428.5,238.0 417.5,223.8" fill="#dfecf7"/>
<polygon points="395.2,203.8 406.4,211.9 412.6,209.4 401.4,201.3" fill="#f0f6fd"/>
<polygon points="330.0,334.3 341.3,342.4 347.9,325.4 336.6,317.3" fill="#8cc0dd"/>
<polygon points="322.2,268.6 333.6,263.9 340.1,248.6 328.7,253.4" fill="#d0e2f2"/>
<polygon points="366.0,206.3 377.5,205.2 383.8,200.4 372.3,201.5" fill="#f3f8fe"/>
<polygon points="341.7,228.0 353.2,223.2 359.6,213.6 348.1,218.5" fill="#e8f1fa"/>
<polygon points="365.6,319.9 376.7,333.8 383.4,316.8 372.3,302.8" fill="#9cc9e1"/>
<polygon points="390.0,300.5 401.0,315.0 407.6,299.9 396.6,285.3" fill="#afd1e7"/>
<polygon points="347.9,325.4 359.0,337.1 365.6,319.9 354.5,308.1" fill="#97c6df"/>
<polygon points="409.6,259.9 420.6,274.5 427.0,264.9 416.0,250.2" fill="#d0e1f2"/>
<polygon points="328.7,253.4 340.1,248.6 346.6,235.0 335.2,239.8" fill="#dae8f6"/>
<polygon points="320.5,297.3 331.8,296.4 338.4,279.3 327.0,280.3" fill="#bcd7eb"/>
<polygon points="335.2,239.8 346.6,235.0 353.2,223.2 341.7,228.0" fill="#e3eef8"/>
<polygon points="325.3,313.7 336.6,317.3 343.2,300.0 331.8,296.4" fill="#aacfe5"/>
<polygon points="396.6,285.3 407.6,299.9 414.1,286.2 403.1,271.7" fill="#bfd8ed"/>
<polygon points="403.1,271.7 414.1,286.2 420.6,274.5 409.6,259.9" fill="#cadef0"/>
<polygon points="336.6,317.3 347.9,325.4 354.5,308.1 343.2,300.0" fill="#a6cee4"/>
<polygon points="400.2,216.8 411.3,228.7 417.5,223.8 406.4,211.9" fill="#ebf3fb"/>
<polygon points="372.3,302.8 383.4,316.8 390.0,300.5 378.9,286.4" fill="#b2d2e8"/>
<polygon points="405.0,236.0 416.0,250.2 422.3,242.9 411.3,228.7" fill="#dfecf7"/>
<polygon points="377.5,205.2 388.9,208.7 395.2,203.8 383.8,200.4" fill="#f6faff"/>
<polygon points="327.0,280.3 338.4,279.3 345.0,262.9 333.6,263.9" fill="#cddff1"/>
<polygon points="359.6,213.6 371.1,212.5 377.5,205.2 366.0,206.3" fill="#f3f8fe"/>
<polygon points="354.5,308.1 365.6,319.9 372.3,302.8 361.1,291.0" fill="#afd1e7"/>
<polygon points="388.9,208.7 400.2,216.8 406.4,211.9 395.2,203.8" fill="#f3f8fe"/>
<polygon points="331.8,296.4 343.2,300.0 349.8,282.9 338.4,279.3" fill="#c1d9ed"/>
<polygon points="378.9,286.4 390.0,300.5 396.6,285.3 385.5,271.2" fill="#c4daee"/>
<polygon points="398.6,245.7 409.6,259.9 416.0,250.2 405.0,236.0" fill="#dceaf6"/>
<polygon points="343.2,300.0 354.5,308.1 361.1,291.0 349.8,282.9" fill="#bcd7eb"/>
<polygon points="333.6,263.9 345.0,262.9 351.6,247.6 340.1,248.6" fill="#d9e7f5"/>
<polygon points="353.2,223.2 364.6,222.1 371.1,212.5 359.6,213.6" fill="#f0f6fd"/>
<polygon points="385.5,271.2 396.6,285.3 403.1,271.7 392.0,257.5" fill="#cfe1f2"/>
<polygon points="392.0,257.5 403.1,271.7 409.6,259.9 398.6,245.7" fill="#d7e6f5"/>
<polygon points="361.1,291.0 372.3,302.8 378.9,286.4 367.7,274.6" fill="#c4daee"/>
<polygon points="393.8,224.1 405.0,236.0 411.3,228.7 400.2,216.8" fill="#ebf3fb"/>
<polygon points="340.1,248.6 351.6,247.6 358.1,233.9 346.6,235.0" fill="#e3eef8"/>
<polygon points="346.6,235.0 358.1,233.9 364.6,222.1 353.2,223.2" fill="#eaf3fb"/>
<polygon points="338.4,279.3 349.8,282.9 356.4,266.5 345.0,262.9" fill="#d0e1f2"/>
<polygon points="371.1,212.5 382.5,216.0 388.9,208.7 377.5,205.2" fill="#f6faff"/>
<polygon points="349.8,282.9 361.1,291.0 367.7,274.6 356.4,266.5" fill="#cddff1"/>
<polygon points="382.5,216.0 393.8,224.1 400.2,216.8 388.9,208.7" fill="#f3f8fe"/>
<polygon points="367.7,274.6 378.9,286.4 385.5,271.2 374.3,259.3" fill="#d0e2f2"/>
<polygon points="387.4,233.8 398.6,245.7 405.0,236.0 393.8,224.1" fill="#e8f1fa"/>
<polygon points="345.0,262.9 356.4,266.5 363.0,251.2 351.6,247.6" fill="#dbe9f6"/>
<polygon points="374.3,259.3 385.5,271.2 392.0,257.5 380.9,245.6" fill="#dae8f6"/>
<polygon points="364.6,222.1 376.1,225.6 382.5,216.0 371.1,212.5" fill="#f3f8fe"/>
<polygon points="380.9,245.6 392.0,257.5 398.6,245.7 387.4,233.8" fill="#e3eef8"/>
<polygon points="356.4,266.5 367.7,274.6 374.3,259.3 363.0,251.2" fill="#d9e7f5"/>
<polygon points="376.1,225.6 387.4,233.8 393.8,224.1 382.5,216.0" fill="#f0f6fd"/>
<polygon points="351.6,247.6 363.0,251.2 369.5,237.5 358.1,233.9" fill="#e5eff9"/>
<polygon points="358.1,233.9 369.5,237.5 376.1,225.6 364.6,222.1" fill="#eef5fc"/>
<polygon points="363.0,251.2 374.3,259.3 380.9,245.6 369.5,237.5" fill="#e3eef8"/>
<polygon points="369.5,237.5 380.9,245.6 387.4,233.8 376.1,225.6" fill="#eaf3fb"/>
</g>
<path d="M35.9 404.1 L371.5 518.2 M371.5 518.2 L554.3 325.4 M554.3 325.4 L573.1 109.6" fill="none" stroke="#000" stroke-width="1.2"/>
<path d="M44.3 403.9 L38.6 409.8 M202.8 457.8 L197.2 463.7 M367.0 513.6 L361.4 519.5 M372.0 513.1 L381.1 516.2 M462.5 417.7 L471.6 420.8 M547.7 327.7 L556.8 330.8 M551.0 320.3 L560.5 323.5 M559.7 220.1 L569.2 223.3 M569.1 112.8 L578.6 116.0" fill="none" stroke="#000" stroke-width="1.5"/>
<circle cx="298.4" cy="234.0" r="4.6" fill="#fff" stroke="#000" stroke-width="1.3"/>
<text y="443.7" font-size="18" text-anchor="middle" font-family="'Liberation Serif','DejaVu Serif',serif" fill="#000"><tspan x="21.5">−</tspan><tspan x="33.4">6</tspan><tspan x="43.7" font-style="italic">π</tspan></text>
<text y="497.5" font-size="18" text-anchor="middle" font-family="'Liberation Serif','DejaVu Serif',serif" fill="#000"><tspan x="179.0">−</tspan><tspan x="191.2">2</tspan><tspan x="201.5" font-style="italic">π</tspan></text>
<text y="553.5" font-size="18" text-anchor="middle" font-family="'Liberation Serif','DejaVu Serif',serif" fill="#000"><tspan x="348.0">2</tspan><tspan x="358.5" font-style="italic">π</tspan></text>
<text y="546.5" font-size="18" text-anchor="middle" font-family="'Liberation Serif','DejaVu Serif',serif" fill="#000"><tspan x="385.0">−</tspan><tspan x="397.5">2</tspan><tspan x="407.6" font-style="italic">π</tspan></text>
<text y="451.0" font-size="18" text-anchor="middle" font-family="'Liberation Serif','DejaVu Serif',serif" fill="#000"><tspan x="479.0">2</tspan><tspan x="489.0" font-style="italic">π</tspan></text>
<text y="361.0" font-size="18" text-anchor="middle" font-family="'Liberation Serif','DejaVu Serif',serif" fill="#000"><tspan x="563.5">6</tspan><tspan x="574.2" font-style="italic">π</tspan></text>
<text y="330.8" font-size="18" text-anchor="middle" font-family="'Liberation Serif','DejaVu Serif',serif" fill="#000"><tspan x="578.3">−</tspan><tspan x="591.1">2</tspan></text>
<text y="231.6" font-size="18" text-anchor="middle" font-family="'Liberation Serif','DejaVu Serif',serif" fill="#000"><tspan x="593.8">0</tspan></text>
<text y="123.7" font-size="18" text-anchor="middle" font-family="'Liberation Serif','DejaVu Serif',serif" fill="#000"><tspan x="604.0">2</tspan></text>
<text transform="translate(176.5 518.1) scale(1.120 1)" font-size="29" text-anchor="middle" font-family="'Liberation Serif','DejaVu Serif',serif" fill="#000" font-style="italic">x</text>
<text transform="translate(508.5 466.0) scale(1.120 1)" font-size="28" text-anchor="middle" font-family="'Liberation Serif','DejaVu Serif',serif" fill="#000" font-style="italic">y</text>
<text transform="translate(629.5 219.5) scale(1.120 1)" font-size="29" text-anchor="middle" font-family="'Liberation Serif','DejaVu Serif',serif" fill="#000" font-style="italic">z</text>
</svg></body></html>
